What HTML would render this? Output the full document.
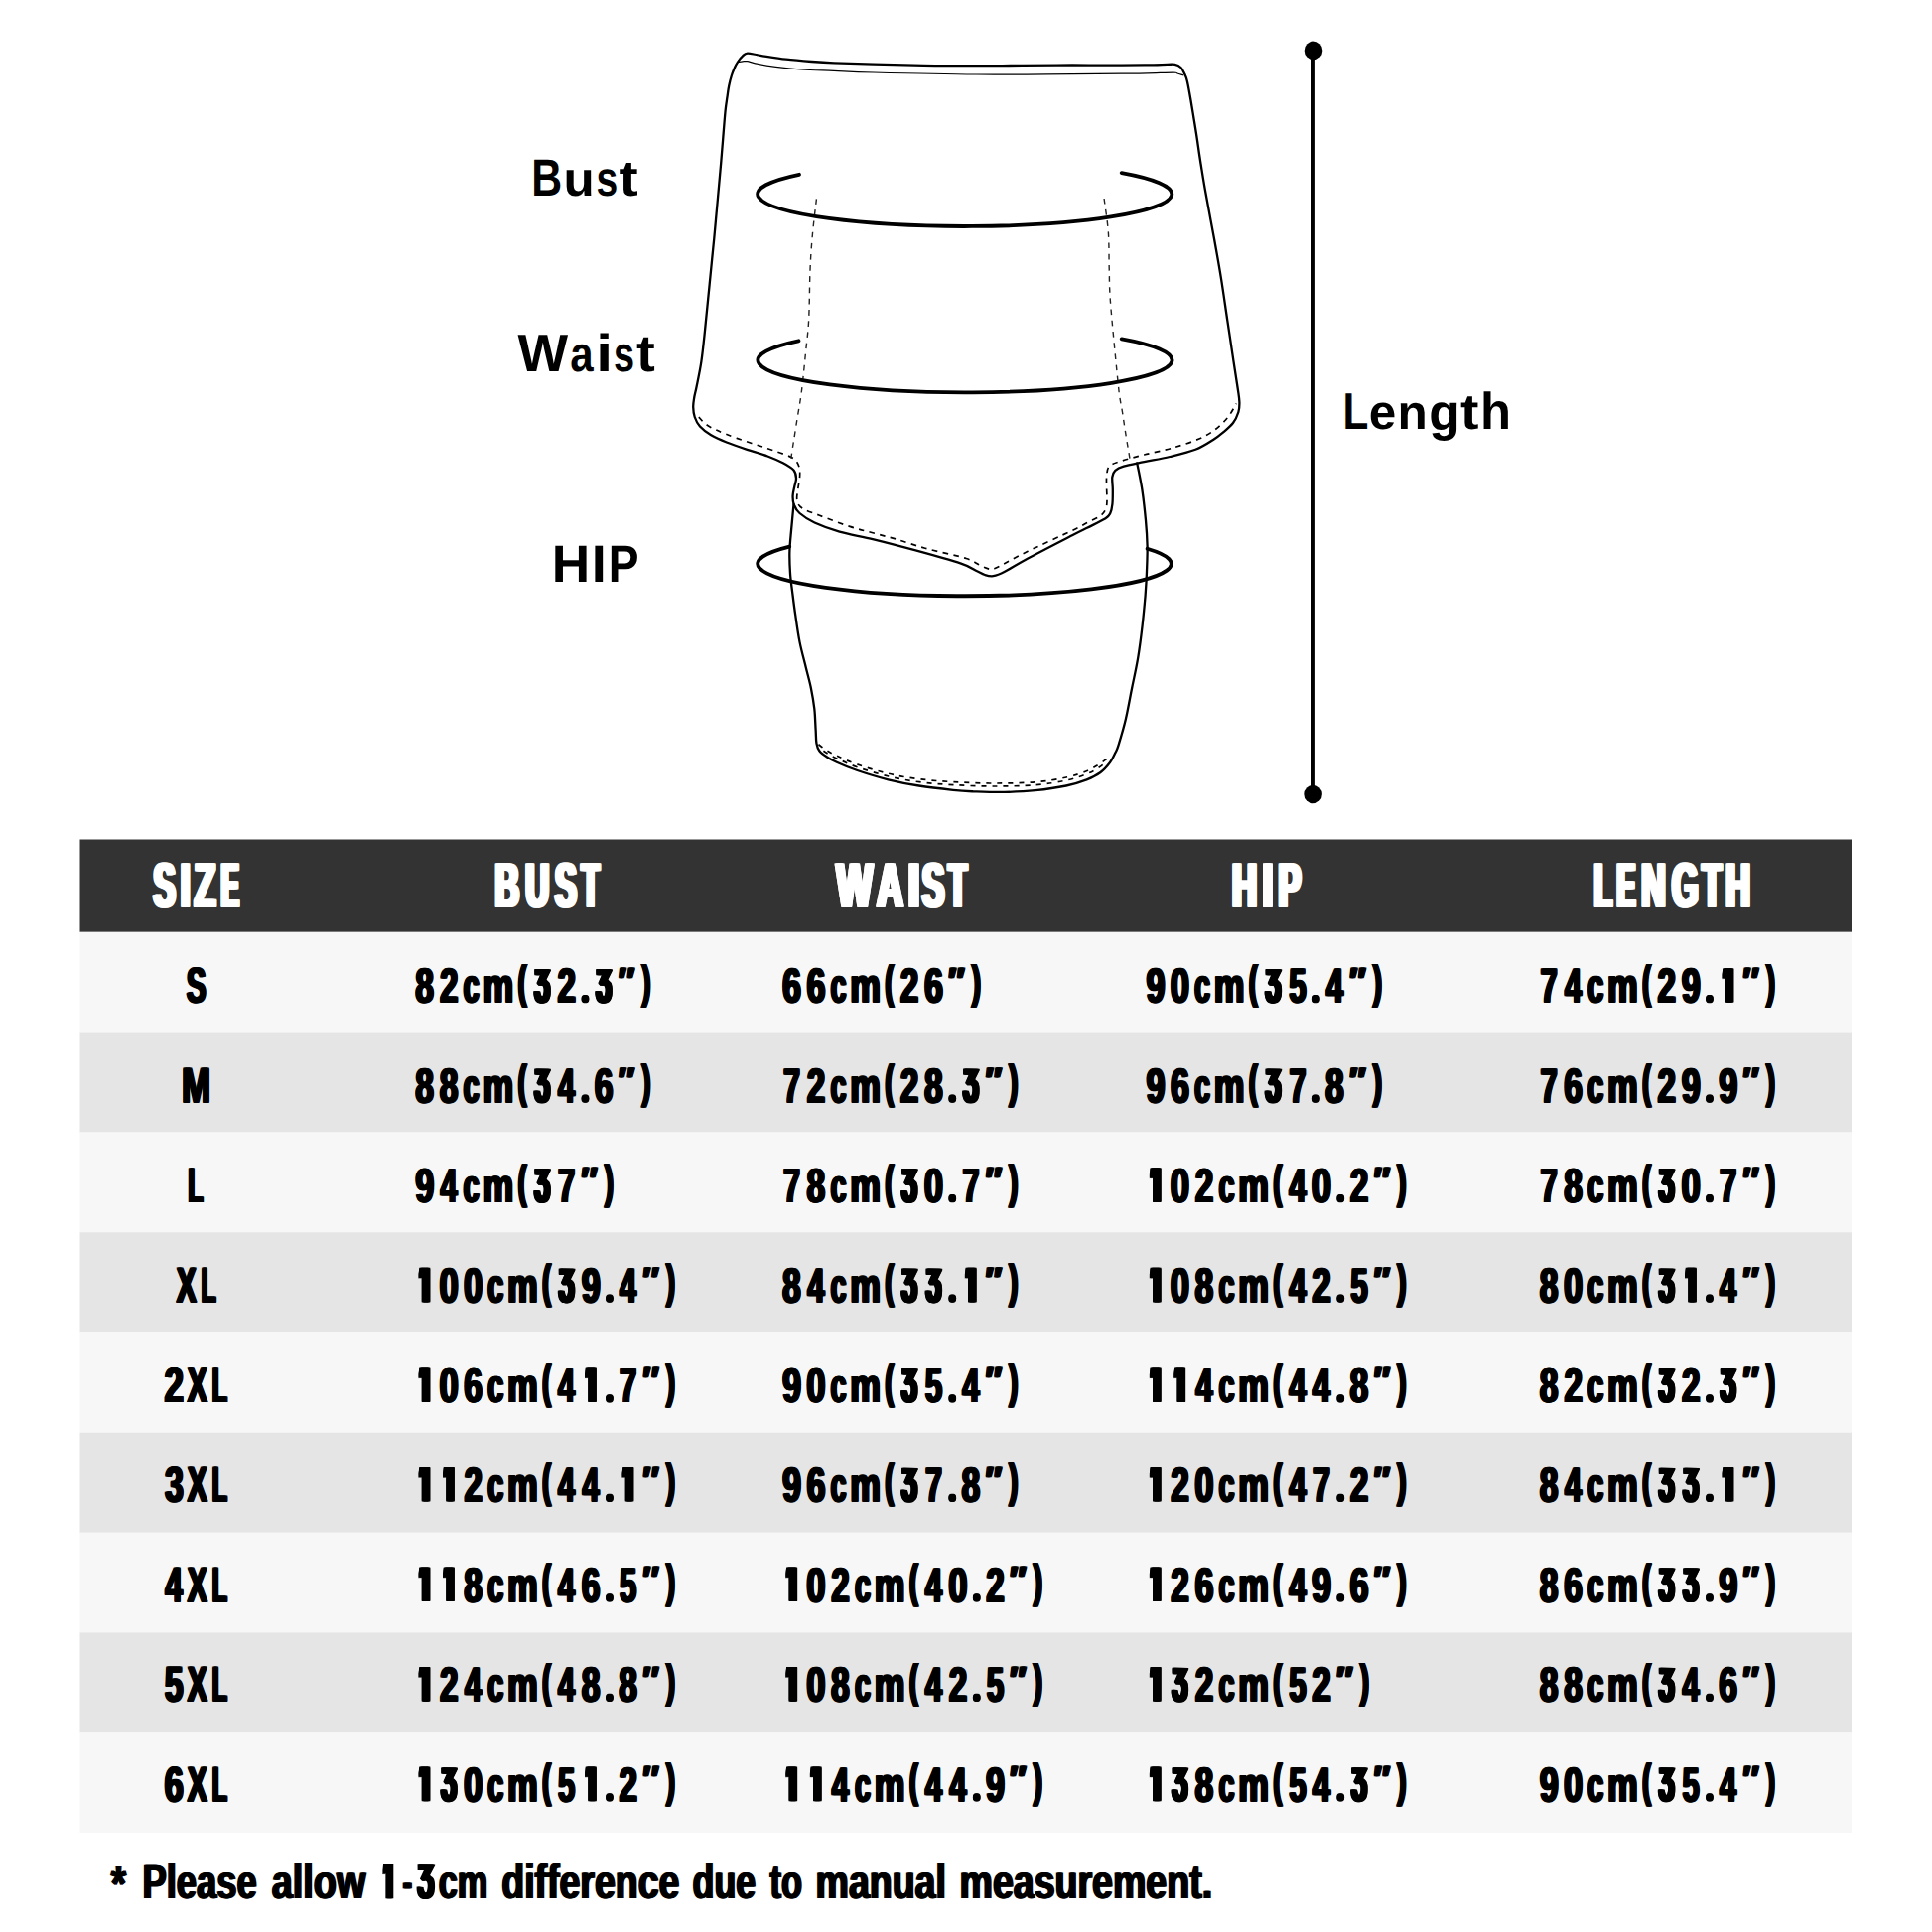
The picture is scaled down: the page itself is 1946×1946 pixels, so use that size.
<!DOCTYPE html>
<html><head><meta charset="utf-8"><title>Size Chart</title>
<style>
html,body{margin:0;padding:0;background:#fff;width:1946px;height:1946px;overflow:hidden}
svg{display:block}
text{font-family:"Liberation Sans",sans-serif;font-weight:bold;font-kerning:none;text-rendering:geometricPrecision}
.h{fill:#fff}
.d{fill:#000}
.l{fill:#000}
.s{fill:none;stroke:#000;stroke-width:2.3;stroke-linejoin:round;stroke-linecap:round}
.t{fill:none;stroke:#000;stroke-width:1.25}
.dd{fill:none;stroke:#000;stroke-width:1.7;stroke-dasharray:5.6 5.4}
.dv{fill:none;stroke:#222;stroke-width:1.4;stroke-dasharray:5.6 5.6}
.db{fill:none;stroke:#000;stroke-width:1.7;stroke-dasharray:5 6}
.e{fill:none;stroke:#000;stroke-width:3.8;stroke-linecap:round}
</style></head><body>
<svg width="1946" height="1946" viewBox="0 0 1946 1946"><rect x="80.5" y="845.5" width="1784.5" height="93.3" fill="#333333"/><rect x="80.5" y="938.80" width="1784.5" height="101.10" fill="#f7f7f7"/><rect x="80.5" y="1039.60" width="1784.5" height="101.10" fill="#e5e5e5"/><rect x="80.5" y="1140.40" width="1784.5" height="101.10" fill="#f7f7f7"/><rect x="80.5" y="1241.20" width="1784.5" height="101.10" fill="#e5e5e5"/><rect x="80.5" y="1342.00" width="1784.5" height="101.10" fill="#f7f7f7"/><rect x="80.5" y="1442.80" width="1784.5" height="101.10" fill="#e5e5e5"/><rect x="80.5" y="1543.60" width="1784.5" height="101.10" fill="#f7f7f7"/><rect x="80.5" y="1644.40" width="1784.5" height="101.10" fill="#e5e5e5"/><rect x="80.5" y="1745.20" width="1784.5" height="100.80" fill="#f7f7f7"/><text class="l" font-size="52.76" transform="matrix(0.8111,0,0,0.9972,535.24,196.90)">B</text><text class="l" font-size="52.76" transform="matrix(0.9694,0,0,0.9228,567.53,196.92)">u</text><text class="l" font-size="52.76" transform="matrix(0.7423,0,0,0.9436,600.52,196.91)">s</text><text class="l" font-size="52.76" transform="matrix(1.0932,0,0,0.9604,623.60,196.95)">t</text><text class="l" font-size="52.76" transform="matrix(1.0162,0,0,1.0138,521.55,374.20)">W</text><text class="l" font-size="52.76" transform="matrix(0.7962,0,0,0.9583,574.17,374.21)">a</text><text class="l" font-size="52.76" transform="matrix(1.1465,0,0,1.0070,600.18,374.20)">i</text><text class="l" font-size="52.76" transform="matrix(0.7187,0,0,0.9574,617.97,374.21)">s</text><text class="l" font-size="52.76" transform="matrix(1.0687,0,0,0.9976,640.91,374.24)">t</text><text class="l" font-size="52.76" transform="matrix(1.0091,0,0,1.0000,555.74,585.90)">H</text><text class="l" font-size="52.76" transform="matrix(1.0263,0,0,1.0000,595.68,585.90)">I</text><text class="l" font-size="52.76" transform="matrix(0.8741,0,0,1.0000,612.71,585.90)">P</text><text class="l" font-size="52.76" transform="matrix(0.8014,0,0,0.9862,1352.57,431.80)">L</text><text class="l" font-size="52.76" transform="matrix(0.9341,0,0,0.9306,1378.77,431.82)">e</text><text class="l" font-size="52.76" transform="matrix(0.9380,0,0,0.9290,1407.44,431.80)">n</text><text class="l" font-size="52.76" transform="matrix(0.9760,0,0,0.9799,1439.19,433.24)">g</text><text class="l" font-size="52.76" transform="matrix(1.0502,0,0,0.9489,1471.12,431.86)">t</text><text class="l" font-size="52.76" transform="matrix(0.9615,0,0,0.9887,1491.06,431.80)">h</text><path d="M765.9,55.8 C772.4,56.8 783.2,58.7 791.8,59.7 C800.4,60.7 809.6,61.4 817.6,62.0 C825.6,62.6 829.6,62.9 840.0,63.3 C850.4,63.7 865.0,64.2 880.0,64.6 C895.0,65.0 912.8,65.5 930.0,65.8 C947.2,66.1 966.8,66.2 983.5,66.2 C1000.2,66.2 1013.9,66.0 1030.0,65.9 C1046.1,65.8 1063.3,65.5 1080.0,65.5 C1096.7,65.5 1117.3,65.6 1130.0,65.6 C1142.7,65.6 1148.2,65.5 1155.9,65.4 C1163.6,65.3 1171.4,65.0 1176.0,64.9 C1180.6,64.8 1181.0,64.4 1183.3,64.9 C1185.5,65.4 1187.9,66.5 1189.5,68.0 C1191.1,69.5 1192.0,71.9 1193.1,74.2 C1194.2,76.5 1194.9,77.7 1195.9,82.0 C1196.9,86.3 1198.2,93.7 1199.3,100.0 C1200.4,106.3 1201.5,113.3 1202.6,120.0 C1203.7,126.7 1204.7,132.6 1205.8,140.0 C1206.9,147.4 1207.9,155.0 1209.4,164.2 C1210.9,173.4 1212.3,182.7 1214.6,195.3 C1216.8,207.9 1220.3,225.7 1222.9,240.0 C1225.5,254.3 1227.9,267.6 1230.1,281.4 C1232.3,295.2 1234.2,309.0 1236.3,322.8 C1238.4,336.6 1240.8,352.7 1242.5,364.2 C1244.2,375.7 1245.8,385.2 1246.8,392.0 C1247.8,398.8 1248.3,401.2 1248.4,405.0 C1248.5,408.8 1248.5,411.5 1247.4,415.0 C1246.3,418.5 1244.6,422.6 1242.0,426.0 C1239.4,429.4 1235.3,432.7 1232.0,435.5 C1228.7,438.3 1226.6,440.1 1222.0,443.0 C1217.4,445.9 1211.5,450.0 1204.2,452.8 C1196.9,455.6 1186.9,457.9 1178.3,460.0 C1169.7,462.1 1160.2,463.6 1152.5,465.2 C1144.8,466.8 1136.7,468.2 1131.8,469.6 C1126.9,471.0 1125.2,472.0 1123.3,473.8 C1121.4,475.6 1120.7,477.3 1120.3,480.5 C1119.9,483.7 1120.8,488.6 1120.8,493.0 C1120.8,497.4 1120.9,503.0 1120.5,507.0 C1120.1,511.0 1119.5,514.5 1118.3,517.0 C1117.1,519.5 1117.3,519.9 1113.5,522.3 C1109.7,524.7 1101.1,528.7 1095.5,531.5 C1089.9,534.3 1090.0,534.0 1080.0,539.2 C1070.0,544.4 1046.6,556.4 1035.3,562.5 C1024.0,568.6 1017.8,572.8 1012.0,575.8 C1006.2,578.8 1003.8,579.7 1000.5,580.2 C997.2,580.7 994.8,579.9 992.0,579.0 C989.2,578.1 987.5,576.9 983.5,575.0 C979.5,573.1 978.4,571.2 968.0,567.7 C957.6,564.2 936.1,558.2 921.4,554.2 C906.7,550.2 892.6,546.5 880.0,543.4 C867.4,540.3 855.5,538.4 845.6,535.6 C835.7,532.8 827.2,529.6 820.5,526.5 C813.8,523.4 809.0,520.0 805.5,517.0 C802.0,514.0 800.9,511.4 799.8,508.5 C798.6,505.6 798.5,502.5 798.6,499.4 C798.7,496.3 799.7,492.9 800.3,490.0 C800.9,487.1 802.1,484.6 802.0,481.8 C801.9,479.1 801.7,476.1 799.5,473.5 C797.3,470.9 793.1,468.6 788.7,466.3 C784.3,464.0 779.2,461.8 773.2,459.5 C767.2,457.2 759.4,455.1 752.5,452.8 C745.6,450.5 737.8,447.9 731.8,445.5 C725.8,443.1 720.7,441.0 716.2,438.3 C711.7,435.6 707.8,432.6 705.0,429.5 C702.2,426.4 700.8,423.2 699.7,420.0 C698.6,416.8 698.3,413.3 698.2,410.0 C698.1,406.7 698.8,403.3 699.3,400.0 C699.8,396.7 700.3,396.0 701.5,390.0 C702.7,384.0 705.0,373.7 706.4,364.2 C707.8,354.7 708.9,343.5 710.0,333.2 C711.1,322.9 712.1,312.5 713.1,302.1 C714.1,291.7 715.2,281.4 716.2,271.0 C717.2,260.6 718.2,251.0 719.3,240.0 C720.3,229.0 721.5,216.3 722.5,205.0 C723.5,193.7 724.5,182.8 725.5,172.0 C726.5,161.2 727.4,149.9 728.2,140.0 C729.0,130.1 729.8,119.7 730.5,112.5 C731.2,105.3 732.0,101.2 732.6,96.9 C733.2,92.6 733.5,90.1 734.2,86.6 C734.9,83.1 735.9,79.1 736.9,76.0 C737.9,72.9 739.0,70.3 740.0,68.0 C741.0,65.7 741.8,64.2 743.1,62.3 C744.4,60.4 746.2,58.0 747.8,56.6 C749.4,55.2 749.9,53.7 752.9,53.6 C755.9,53.5 759.4,54.8 765.9,55.8Z" class="s"/><path d="M743.6,62.4 C744.3,62.3 746.5,61.9 748.0,61.8 C749.5,61.7 750.8,61.4 752.9,61.7 C755.0,62.0 756.0,62.8 760.7,63.8 C765.5,64.8 773.6,66.4 781.4,67.4 C789.2,68.4 797.5,69.3 807.3,70.0 C817.1,70.7 827.9,70.9 840.0,71.4 C852.1,71.9 856.1,72.4 880.0,73.0 C903.9,73.6 950.2,74.7 983.5,75.0 C1016.8,75.3 1055.6,74.7 1080.0,74.6 C1104.4,74.5 1117.3,74.3 1130.0,74.2 C1142.7,74.1 1147.3,74.1 1155.9,73.9 C1164.5,73.7 1176.8,73.1 1181.8,73.1 C1186.8,73.1 1184.2,73.5 1186.0,74.0 C1187.8,74.5 1191.2,75.7 1192.3,76.0" class="t"/><path d="M799.5,508.0 C799.1,512.4 797.7,526.7 797.0,534.6 C796.3,542.5 795.6,548.4 795.4,555.3 C795.2,562.2 795.5,570.0 795.9,576.0 C796.2,582.0 797.0,587.5 797.5,591.5 C798.0,595.5 798.0,595.1 798.6,600.0 C799.2,604.9 800.2,612.9 801.4,620.7 C802.5,628.5 803.8,638.0 805.5,646.6 C807.2,655.2 809.9,664.7 811.8,672.5 C813.7,680.3 815.5,686.3 816.9,693.2 C818.3,700.1 819.5,707.0 820.3,713.9 C821.1,720.8 821.2,728.8 821.6,734.6 C822.0,740.4 821.8,744.9 822.4,748.5 C823.0,752.1 823.7,754.2 825.5,756.5 C827.3,758.8 830.1,760.6 833.0,762.5 C835.9,764.4 837.7,765.5 842.8,767.7 C847.9,770.0 854.9,773.1 863.5,776.0 C872.1,778.9 884.2,782.7 894.6,785.3 C905.0,787.9 914.7,789.8 925.6,791.5 C936.5,793.2 950.8,794.8 960.0,795.8 C969.2,796.8 972.1,796.9 980.7,797.3 C989.3,797.6 1001.4,798.1 1011.8,797.9 C1022.1,797.7 1032.4,797.3 1042.8,796.2 C1053.2,795.1 1065.3,793.3 1073.9,791.5 C1082.5,789.7 1088.8,787.5 1094.6,785.3 C1100.4,783.0 1104.6,780.9 1108.5,778.0 C1112.4,775.1 1115.5,771.3 1118.0,768.0 C1120.5,764.7 1122.0,761.0 1123.5,758.0 C1125.0,755.0 1125.0,755.7 1126.7,750.1 C1128.4,744.5 1131.7,733.7 1133.9,724.2 C1136.1,714.7 1138.0,703.6 1140.1,693.2 C1142.2,682.9 1144.6,672.5 1146.3,662.1 C1148.0,651.8 1149.3,641.5 1150.5,631.1 C1151.7,620.8 1152.8,609.2 1153.6,600.0 C1154.3,590.8 1154.7,584.3 1155.0,576.0 C1155.3,567.7 1155.8,558.7 1155.6,550.1 C1155.4,541.5 1154.9,533.7 1154.0,524.2 C1153.1,514.7 1151.9,502.9 1150.4,493.2 C1148.9,483.5 1146.1,470.8 1145.2,466.3" class="s"/><path d="M703.8,420.1 C704.9,421.2 707.6,424.8 710.5,427.0 C713.4,429.2 716.1,430.7 721.4,433.1 C726.7,435.5 733.5,438.3 742.1,441.4 C750.7,444.5 765.1,449.0 773.2,451.8 C781.4,454.6 786.4,456.2 791.0,458.0 C795.6,459.8 798.3,460.7 800.6,462.8 C802.9,464.9 804.2,467.6 805.0,470.4 C805.8,473.2 805.8,475.9 805.6,479.7 C805.4,483.5 804.2,489.1 803.7,493.2 C803.2,497.2 802.2,500.9 802.9,504.0 C803.6,507.1 804.1,509.3 807.8,511.8 C811.5,514.3 816.9,515.9 824.9,519.0 C832.9,522.1 846.8,527.4 856.0,530.4 C865.2,533.4 872.0,534.8 880.0,537.0 C888.0,539.2 895.1,540.9 903.7,543.4 C912.3,545.9 920.2,549.0 931.8,552.2 C943.4,555.4 963.7,559.5 973.2,562.5 C982.7,565.5 984.5,568.5 988.7,570.3 C992.9,572.1 995.6,573.3 998.5,573.3 C1001.4,573.3 1000.2,573.5 1006.3,570.5 C1012.4,567.5 1023.0,561.3 1035.3,555.3 C1047.6,549.3 1070.0,539.2 1080.0,534.4 C1090.0,529.6 1090.2,529.0 1095.0,526.5 C1099.8,524.0 1105.4,521.8 1108.5,519.5 C1111.6,517.2 1112.7,515.2 1113.8,512.5 C1114.9,509.8 1114.9,507.2 1115.0,503.5 C1115.1,499.8 1114.6,494.1 1114.6,490.0 C1114.5,485.9 1114.3,482.3 1114.7,479.0 C1115.1,475.7 1115.0,472.3 1117.0,470.0 C1119.0,467.7 1120.7,467.2 1126.6,465.2 C1132.5,463.2 1143.0,460.4 1152.5,458.0 C1162.0,455.6 1173.2,453.7 1183.5,450.5 C1193.8,447.3 1206.1,443.4 1214.6,438.8 C1223.1,434.2 1229.4,428.4 1234.5,423.0 C1239.6,417.6 1243.5,409.2 1245.3,406.5" class="dd"/><path d="M822.4,200.3 C821.8,206.1 819.6,223.1 818.5,235.0 C817.4,246.9 816.6,257.4 816.0,272.0 C815.4,286.6 815.4,309.0 814.6,322.8 C813.9,336.6 812.4,345.5 811.5,355.0 C810.6,364.5 809.8,372.5 809.0,380.0 C808.2,387.5 807.6,393.2 806.6,400.0 C805.6,406.8 804.4,413.4 803.2,420.7 C802.0,427.9 800.7,436.7 799.6,443.5 C798.5,450.3 797.3,458.5 796.8,461.5" class="dv"/><path d="M1112.1,200.0 C1112.8,205.8 1115.6,222.9 1116.4,234.6 C1117.2,246.3 1116.9,258.8 1117.2,270.0 C1117.5,281.2 1117.3,288.1 1118.3,302.1 C1119.3,316.1 1121.5,338.4 1123.0,353.9 C1124.5,369.4 1126.0,385.1 1127.2,395.3 C1128.5,405.5 1129.4,408.1 1130.5,415.0 C1131.6,421.9 1132.5,428.8 1133.8,436.7 C1135.0,444.6 1137.2,457.0 1138.0,462.1 C1138.8,467.2 1138.4,466.4 1138.5,467.3" class="dv"/><path d="M824.5,749.8 C825.9,750.8 830.0,754.1 833.0,756.0 C836.0,757.9 837.5,758.7 842.5,761.0 C847.5,763.3 854.4,766.8 863.0,769.8 C871.6,772.8 883.7,776.5 894.0,779.0 C904.3,781.5 914.0,783.2 925.0,784.6 C936.0,786.0 947.5,786.9 960.0,787.6 C972.5,788.3 986.3,789.0 1000.0,789.0 C1013.7,789.0 1029.7,788.8 1042.0,787.8 C1054.3,786.8 1065.2,784.9 1074.0,783.0 C1082.8,781.1 1089.4,778.8 1095.0,776.5 C1100.6,774.2 1104.2,771.5 1107.5,769.5 C1110.8,767.5 1113.3,765.3 1114.5,764.5" class="db"/><path d="M825.0,753.0 C826.4,754.0 830.5,757.2 833.5,759.0 C836.5,760.8 838.0,761.7 843.0,764.0 C848.0,766.3 855.1,769.8 863.8,772.8 C872.5,775.8 884.6,779.5 895.0,782.0 C905.4,784.5 915.2,786.3 926.0,787.7 C936.8,789.1 947.7,789.9 960.0,790.6 C972.3,791.3 986.3,792.0 1000.0,792.0 C1013.7,792.0 1029.7,791.8 1042.0,790.8 C1054.3,789.8 1065.2,787.9 1074.0,786.0 C1082.8,784.1 1089.5,781.7 1095.0,779.5 C1100.5,777.3 1103.8,775.0 1107.0,773.0 C1110.2,771.0 1112.8,768.4 1114.0,767.5" class="db" style="stroke-dashoffset:5.5"/><path d="M805,175.8 A208.6,32.6 0 1 0 1129.7,174.1" class="e"/><path d="M804.5,343.3 A208.6,32.6 0 1 0 1129.7,341.4" class="e"/><path d="M795.2,550.6 A208.3,32.4 0 1 0 1155.6,552.7" class="e"/><line x1="1322.6" y1="50.7" x2="1322.6" y2="800" stroke="#000" stroke-width="4.6"/><circle cx="1323.0" cy="50.9" r="9.3" fill="#000"/><circle cx="1322.6" cy="800.0" r="9.3" fill="#000"/><g id="hd" fill="#fff" transform="translate(0,-0.50)"><text class="h" font-size="63.66" transform="matrix(0.5165,0,0,1.0000,152.45,913.30)">S</text><text class="h" font-size="63.66" transform="matrix(0.5234,0,0,1.0000,179.97,913.30)">I</text><text class="h" font-size="63.66" transform="matrix(0.5518,0,0,1.0000,193.65,913.30)">Z</text><text class="h" font-size="63.66" transform="matrix(0.4144,0,0,1.0000,220.84,913.30)">E</text><text class="h" font-size="63.66" transform="matrix(0.5280,0,0,1.0000,496.55,913.30)">B</text><text class="h" font-size="63.66" transform="matrix(0.5148,0,0,1.0000,527.33,913.30)">U</text><text class="h" font-size="63.66" transform="matrix(0.5060,0,0,1.0000,556.97,913.30)">S</text><text class="h" font-size="63.66" transform="matrix(0.4588,0,0,1.0000,583.67,913.30)">T</text><text class="h" font-size="63.66" transform="matrix(0.6037,0,0,1.0000,840.56,913.30)">W</text><text class="h" font-size="63.66" transform="matrix(0.5713,0,0,1.0000,881.29,913.30)">A</text><text class="h" font-size="63.66" transform="matrix(0.6652,0,0,1.0000,912.47,913.30)">I</text><text class="h" font-size="63.66" transform="matrix(0.5244,0,0,1.0000,926.84,913.30)">S</text><text class="h" font-size="63.66" transform="matrix(0.4748,0,0,1.0000,953.36,913.30)">T</text><text class="h" font-size="63.66" transform="matrix(0.5397,0,0,1.0000,1239.10,913.30)">H</text><text class="h" font-size="63.66" transform="matrix(0.5998,0,0,1.0000,1269.55,913.30)">I</text><text class="h" font-size="63.66" transform="matrix(0.5301,0,0,1.0000,1285.54,913.30)">P</text><text class="h" font-size="63.66" transform="matrix(0.4591,0,0,1.0000,1603.74,913.30)">L</text><text class="h" font-size="63.66" transform="matrix(0.4340,0,0,1.0000,1626.45,913.30)">E</text><text class="h" font-size="63.66" transform="matrix(0.5317,0,0,1.0000,1651.14,913.30)">N</text><text class="h" font-size="63.66" transform="matrix(0.5330,0,0,1.0000,1682.01,913.30)">G</text><text class="h" font-size="63.66" transform="matrix(0.4908,0,0,1.0000,1712.55,913.30)">T</text><text class="h" font-size="63.66" transform="matrix(0.5317,0,0,1.0000,1736.24,913.30)">H</text></g><use href="#hd" x="1.40"/><use href="#hd" x="2.80"/><use href="#hd" x="4.20"/><use href="#hd" x="0.00" y="1.00"/><use href="#hd" x="1.40" y="1.00"/><use href="#hd" x="2.80" y="1.00"/><use href="#hd" x="4.20" y="1.00"/><g id="dt" fill="#000" transform="translate(0,-0.40)"><text class="d" font-size="50.15" transform="matrix(0.5891,0,0,1.0000,186.70,1009.80)">S</text><text class="d" font-size="49.00" transform="matrix(0.6780,0,0,1.0000,417.30,1009.80)">8</text><text class="d" font-size="49.00" transform="matrix(0.6698,0,0,1.0000,442.01,1009.80)">2</text><text class="d" font-size="49.00" transform="matrix(0.5899,0,0,1.0000,465.62,1009.80)">c</text><text class="d" font-size="49.00" transform="matrix(0.6997,0,0,1.0000,485.49,1009.80)">m</text><text class="d" font-size="49.00" transform="matrix(0.5460,0,0,0.9590,520.49,1005.05)">(</text><path d="M538.26,976.30 L552.70,976.54 L552.70,977.33 L547.97,986.90 C548.2,987.1 548.6,987.3 549.1,987.8 C549.6,988.3 550.6,989.0 551.2,989.9 C551.7,990.8 552.1,992.0 552.3,993.3 C552.6,994.6 552.6,996.1 552.6,997.8 C552.6,999.6 552.5,1002.0 552.1,1003.6 C551.8,1005.2 551.3,1006.4 550.6,1007.4 C549.9,1008.5 548.9,1009.2 548.0,1009.7 C547.0,1010.2 545.9,1010.4 544.8,1010.4 C543.7,1010.4 542.3,1010.3 541.4,1009.7 C540.4,1009.1 539.5,1008.2 538.9,1007.0 C538.3,1005.8 537.8,1003.9 537.6,1002.4 C537.3,1001.0 537.4,999.0 537.4,998.3 L541.99,998.53 C542.1,998.9 542.1,999.7 542.4,1000.5 C542.6,1001.3 542.9,1002.6 543.4,1003.2 C543.8,1003.8 544.4,1004.2 544.9,1004.2 C545.4,1004.2 546.1,1004.1 546.6,1003.2 C547.0,1002.3 547.4,1000.3 547.6,999.0 C547.7,997.7 547.7,996.6 547.6,995.6 C547.4,994.6 547.2,993.6 546.7,993.0 C546.3,992.4 545.4,992.1 544.7,992.0 C544.1,991.9 543.0,992.5 542.6,992.6 L541.07,991.01 L540.46,990.32 L544.13,981.91 L538.35,981.91Z"/><text class="d" font-size="49.00" transform="matrix(0.6698,0,0,1.0000,560.51,1009.80)">2</text><ellipse cx="588.35" cy="1006.07" rx="2.75" ry="3.73"/><path d="M600.26,976.30 L614.70,976.54 L614.70,977.33 L609.97,986.90 C610.2,987.1 610.6,987.3 611.1,987.8 C611.6,988.3 612.6,989.0 613.2,989.9 C613.7,990.8 614.1,992.0 614.3,993.3 C614.6,994.6 614.6,996.1 614.6,997.8 C614.6,999.6 614.5,1002.0 614.1,1003.6 C613.8,1005.2 613.3,1006.4 612.6,1007.4 C611.9,1008.5 610.9,1009.2 610.0,1009.7 C609.0,1010.2 607.9,1010.4 606.8,1010.4 C605.7,1010.4 604.3,1010.3 603.4,1009.7 C602.4,1009.1 601.5,1008.2 600.9,1007.0 C600.3,1005.8 599.8,1003.9 599.6,1002.4 C599.3,1001.0 599.4,999.0 599.4,998.3 L603.99,998.53 C604.1,998.9 604.1,999.7 604.4,1000.5 C604.6,1001.3 604.9,1002.6 605.4,1003.2 C605.8,1003.8 606.4,1004.2 606.9,1004.2 C607.4,1004.2 608.1,1004.1 608.6,1003.2 C609.0,1002.3 609.4,1000.3 609.6,999.0 C609.7,997.7 609.7,996.6 609.6,995.6 C609.4,994.6 609.2,993.6 608.7,993.0 C608.3,992.4 607.4,992.1 606.7,992.0 C606.1,991.9 605.0,992.5 604.6,992.6 L603.07,991.01 L602.46,990.32 L606.13,981.91 L600.35,981.91Z"/><text class="d" font-size="49.00" transform="matrix(0.7250,0,0,0.7892,621.38,1001.41)">″</text><text class="d" font-size="49.00" transform="matrix(0.5713,0,0,0.9590,645.17,1005.05)">)</text><text class="d" font-size="49.00" transform="matrix(0.6882,0,0,1.0000,786.97,1009.80)">6</text><text class="d" font-size="49.00" transform="matrix(0.6882,0,0,1.0000,811.47,1009.80)">6</text><text class="d" font-size="49.00" transform="matrix(0.5899,0,0,1.0000,835.42,1009.80)">c</text><text class="d" font-size="49.00" transform="matrix(0.6997,0,0,1.0000,855.29,1009.80)">m</text><text class="d" font-size="49.00" transform="matrix(0.5460,0,0,0.9590,890.29,1005.05)">(</text><text class="d" font-size="49.00" transform="matrix(0.6698,0,0,1.0000,905.81,1009.80)">2</text><text class="d" font-size="49.00" transform="matrix(0.6882,0,0,1.0000,929.97,1009.80)">6</text><text class="d" font-size="49.00" transform="matrix(0.7250,0,0,0.7892,953.68,1001.41)">″</text><text class="d" font-size="49.00" transform="matrix(0.5713,0,0,0.9590,977.47,1005.05)">)</text><text class="d" font-size="49.00" transform="matrix(0.6910,0,0,1.0000,1153.48,1009.80)">9</text><text class="d" font-size="49.00" transform="matrix(0.6995,0,0,1.0000,1177.84,1009.80)">0</text><text class="d" font-size="49.00" transform="matrix(0.5899,0,0,1.0000,1201.92,1009.80)">c</text><text class="d" font-size="49.00" transform="matrix(0.6997,0,0,1.0000,1221.79,1009.80)">m</text><text class="d" font-size="49.00" transform="matrix(0.5460,0,0,0.9590,1256.79,1005.05)">(</text><path d="M1274.56,976.30 L1289.00,976.54 L1289.00,977.33 L1284.27,986.90 C1284.5,987.1 1284.9,987.3 1285.4,987.8 C1285.9,988.3 1286.9,989.0 1287.5,989.9 C1288.0,990.8 1288.4,992.0 1288.6,993.3 C1288.9,994.6 1288.9,996.1 1288.9,997.8 C1288.9,999.6 1288.8,1002.0 1288.4,1003.6 C1288.1,1005.2 1287.6,1006.4 1286.9,1007.4 C1286.2,1008.5 1285.2,1009.2 1284.3,1009.7 C1283.3,1010.2 1282.2,1010.4 1281.1,1010.4 C1280.0,1010.4 1278.6,1010.3 1277.7,1009.7 C1276.7,1009.1 1275.8,1008.2 1275.2,1007.0 C1274.6,1005.8 1274.1,1003.9 1273.9,1002.4 C1273.6,1001.0 1273.7,999.0 1273.7,998.3 L1278.29,998.53 C1278.4,998.9 1278.4,999.7 1278.7,1000.5 C1278.9,1001.3 1279.2,1002.6 1279.7,1003.2 C1280.1,1003.8 1280.7,1004.2 1281.2,1004.2 C1281.7,1004.2 1282.4,1004.1 1282.9,1003.2 C1283.3,1002.3 1283.7,1000.3 1283.9,999.0 C1284.0,997.7 1284.0,996.6 1283.9,995.6 C1283.7,994.6 1283.5,993.6 1283.0,993.0 C1282.6,992.4 1281.7,992.1 1281.0,992.0 C1280.4,991.9 1279.3,992.5 1278.9,992.6 L1277.37,991.01 L1276.76,990.32 L1280.43,981.91 L1274.65,981.91Z"/><text class="d" font-size="49.00" transform="matrix(0.6317,0,0,1.0000,1297.20,1009.80)">5</text><ellipse cx="1324.65" cy="1006.07" rx="2.75" ry="3.73"/><text class="d" font-size="49.00" transform="matrix(0.6248,0,0,1.0000,1334.69,1009.80)">4</text><text class="d" font-size="49.00" transform="matrix(0.7250,0,0,0.7892,1357.68,1001.41)">″</text><text class="d" font-size="49.00" transform="matrix(0.5713,0,0,0.9590,1381.47,1005.05)">)</text><text class="d" font-size="49.00" transform="matrix(0.6219,0,0,1.0000,1550.59,1009.80)">7</text><text class="d" font-size="49.00" transform="matrix(0.6248,0,0,1.0000,1574.89,1009.80)">4</text><text class="d" font-size="49.00" transform="matrix(0.5899,0,0,1.0000,1598.12,1009.80)">c</text><text class="d" font-size="49.00" transform="matrix(0.6997,0,0,1.0000,1617.99,1009.80)">m</text><text class="d" font-size="49.00" transform="matrix(0.5460,0,0,0.9590,1652.99,1005.05)">(</text><text class="d" font-size="49.00" transform="matrix(0.6698,0,0,1.0000,1668.51,1009.80)">2</text><text class="d" font-size="49.00" transform="matrix(0.6910,0,0,1.0000,1692.68,1009.80)">9</text><ellipse cx="1720.85" cy="1006.07" rx="2.75" ry="3.73"/><path d="M1744.10,975.60 L1735.29,975.60 L1734.60,981.68 L1734.60,985.74 L1737.76,983.54 L1737.76,1009.40 L1744.10,1009.40Z"/><text class="d" font-size="49.00" transform="matrix(0.7250,0,0,0.7892,1753.88,1001.41)">″</text><text class="d" font-size="49.00" transform="matrix(0.5713,0,0,0.9590,1777.67,1005.05)">)</text><text class="d" font-size="50.15" transform="matrix(0.6902,0,0,1.0000,181.98,1110.35)">M</text><text class="d" font-size="49.00" transform="matrix(0.6780,0,0,1.0000,417.30,1110.35)">8</text><text class="d" font-size="49.00" transform="matrix(0.6780,0,0,1.0000,441.80,1110.35)">8</text><text class="d" font-size="49.00" transform="matrix(0.5899,0,0,1.0000,465.62,1110.35)">c</text><text class="d" font-size="49.00" transform="matrix(0.6997,0,0,1.0000,485.49,1110.35)">m</text><text class="d" font-size="49.00" transform="matrix(0.5460,0,0,0.9590,520.49,1105.60)">(</text><path d="M538.26,1076.85 L552.70,1077.09 L552.70,1077.88 L547.97,1087.45 C548.2,1087.6 548.6,1087.9 549.1,1088.4 C549.6,1088.9 550.6,1089.5 551.2,1090.4 C551.7,1091.3 552.1,1092.5 552.3,1093.8 C552.6,1095.2 552.6,1096.7 552.6,1098.4 C552.6,1100.1 552.5,1102.5 552.1,1104.1 C551.8,1105.7 551.3,1106.9 550.6,1108.0 C549.9,1109.0 548.9,1109.8 548.0,1110.3 C547.0,1110.8 545.9,1110.9 544.8,1110.9 C543.7,1110.9 542.3,1110.8 541.4,1110.3 C540.4,1109.7 539.5,1108.7 538.9,1107.5 C538.3,1106.3 537.8,1104.4 537.6,1103.0 C537.3,1101.5 537.4,1099.5 537.4,1098.8 L541.99,1099.08 C542.1,1099.4 542.1,1100.3 542.4,1101.0 C542.6,1101.8 542.9,1103.1 543.4,1103.8 C543.8,1104.4 544.4,1104.8 544.9,1104.8 C545.4,1104.8 546.1,1104.6 546.6,1103.8 C547.0,1102.9 547.4,1100.8 547.6,1099.6 C547.7,1098.3 547.7,1097.2 547.6,1096.1 C547.4,1095.1 547.2,1094.1 546.7,1093.5 C546.3,1092.9 545.4,1092.6 544.7,1092.6 C544.1,1092.5 543.0,1093.1 542.6,1093.2 L541.07,1091.56 L540.46,1090.87 L544.13,1082.46 L538.35,1082.46Z"/><text class="d" font-size="49.00" transform="matrix(0.6248,0,0,1.0000,560.89,1110.35)">4</text><ellipse cx="588.35" cy="1106.62" rx="2.75" ry="3.73"/><text class="d" font-size="49.00" transform="matrix(0.6882,0,0,1.0000,597.67,1110.35)">6</text><text class="d" font-size="49.00" transform="matrix(0.7250,0,0,0.7892,621.38,1101.96)">″</text><text class="d" font-size="49.00" transform="matrix(0.5713,0,0,0.9590,645.17,1105.60)">)</text><text class="d" font-size="49.00" transform="matrix(0.6219,0,0,1.0000,787.89,1110.35)">7</text><text class="d" font-size="49.00" transform="matrix(0.6698,0,0,1.0000,811.81,1110.35)">2</text><text class="d" font-size="49.00" transform="matrix(0.5899,0,0,1.0000,835.42,1110.35)">c</text><text class="d" font-size="49.00" transform="matrix(0.6997,0,0,1.0000,855.29,1110.35)">m</text><text class="d" font-size="49.00" transform="matrix(0.5460,0,0,0.9590,890.29,1105.60)">(</text><text class="d" font-size="49.00" transform="matrix(0.6698,0,0,1.0000,905.81,1110.35)">2</text><text class="d" font-size="49.00" transform="matrix(0.6780,0,0,1.0000,930.10,1110.35)">8</text><ellipse cx="958.15" cy="1106.62" rx="2.75" ry="3.73"/><path d="M970.06,1076.85 L984.50,1077.09 L984.50,1077.88 L979.77,1087.45 C980.0,1087.6 980.4,1087.9 980.9,1088.4 C981.4,1088.9 982.4,1089.5 983.0,1090.4 C983.5,1091.3 983.9,1092.5 984.1,1093.8 C984.4,1095.2 984.4,1096.7 984.4,1098.4 C984.4,1100.1 984.3,1102.5 983.9,1104.1 C983.6,1105.7 983.1,1106.9 982.4,1108.0 C981.7,1109.0 980.7,1109.8 979.8,1110.3 C978.8,1110.8 977.7,1110.9 976.6,1110.9 C975.5,1110.9 974.1,1110.8 973.2,1110.3 C972.2,1109.7 971.3,1108.7 970.7,1107.5 C970.1,1106.3 969.6,1104.4 969.4,1103.0 C969.1,1101.5 969.2,1099.5 969.2,1098.8 L973.79,1099.08 C973.9,1099.4 973.9,1100.3 974.2,1101.0 C974.4,1101.8 974.7,1103.1 975.2,1103.8 C975.6,1104.4 976.2,1104.8 976.7,1104.8 C977.2,1104.8 977.9,1104.6 978.4,1103.8 C978.8,1102.9 979.2,1100.8 979.4,1099.6 C979.5,1098.3 979.5,1097.2 979.4,1096.1 C979.2,1095.1 979.0,1094.1 978.5,1093.5 C978.1,1092.9 977.2,1092.6 976.5,1092.6 C975.9,1092.5 974.8,1093.1 974.4,1093.2 L972.87,1091.56 L972.26,1090.87 L975.93,1082.46 L970.15,1082.46Z"/><text class="d" font-size="49.00" transform="matrix(0.7250,0,0,0.7892,991.18,1101.96)">″</text><text class="d" font-size="49.00" transform="matrix(0.5713,0,0,0.9590,1014.97,1105.60)">)</text><text class="d" font-size="49.00" transform="matrix(0.6910,0,0,1.0000,1153.48,1110.35)">9</text><text class="d" font-size="49.00" transform="matrix(0.6882,0,0,1.0000,1177.97,1110.35)">6</text><text class="d" font-size="49.00" transform="matrix(0.5899,0,0,1.0000,1201.92,1110.35)">c</text><text class="d" font-size="49.00" transform="matrix(0.6997,0,0,1.0000,1221.79,1110.35)">m</text><text class="d" font-size="49.00" transform="matrix(0.5460,0,0,0.9590,1256.79,1105.60)">(</text><path d="M1274.56,1076.85 L1289.00,1077.09 L1289.00,1077.88 L1284.27,1087.45 C1284.5,1087.6 1284.9,1087.9 1285.4,1088.4 C1285.9,1088.9 1286.9,1089.5 1287.5,1090.4 C1288.0,1091.3 1288.4,1092.5 1288.6,1093.8 C1288.9,1095.2 1288.9,1096.7 1288.9,1098.4 C1288.9,1100.1 1288.8,1102.5 1288.4,1104.1 C1288.1,1105.7 1287.6,1106.9 1286.9,1108.0 C1286.2,1109.0 1285.2,1109.8 1284.3,1110.3 C1283.3,1110.8 1282.2,1110.9 1281.1,1110.9 C1280.0,1110.9 1278.6,1110.8 1277.7,1110.3 C1276.7,1109.7 1275.8,1108.7 1275.2,1107.5 C1274.6,1106.3 1274.1,1104.4 1273.9,1103.0 C1273.6,1101.5 1273.7,1099.5 1273.7,1098.8 L1278.29,1099.08 C1278.4,1099.4 1278.4,1100.3 1278.7,1101.0 C1278.9,1101.8 1279.2,1103.1 1279.7,1103.8 C1280.1,1104.4 1280.7,1104.8 1281.2,1104.8 C1281.7,1104.8 1282.4,1104.6 1282.9,1103.8 C1283.3,1102.9 1283.7,1100.8 1283.9,1099.6 C1284.0,1098.3 1284.0,1097.2 1283.9,1096.1 C1283.7,1095.1 1283.5,1094.1 1283.0,1093.5 C1282.6,1092.9 1281.7,1092.6 1281.0,1092.6 C1280.4,1092.5 1279.3,1093.1 1278.9,1093.2 L1277.37,1091.56 L1276.76,1090.87 L1280.43,1082.46 L1274.65,1082.46Z"/><text class="d" font-size="49.00" transform="matrix(0.6219,0,0,1.0000,1297.39,1110.35)">7</text><ellipse cx="1324.65" cy="1106.62" rx="2.75" ry="3.73"/><text class="d" font-size="49.00" transform="matrix(0.6780,0,0,1.0000,1334.10,1110.35)">8</text><text class="d" font-size="49.00" transform="matrix(0.7250,0,0,0.7892,1357.68,1101.96)">″</text><text class="d" font-size="49.00" transform="matrix(0.5713,0,0,0.9590,1381.47,1105.60)">)</text><text class="d" font-size="49.00" transform="matrix(0.6219,0,0,1.0000,1550.59,1110.35)">7</text><text class="d" font-size="49.00" transform="matrix(0.6882,0,0,1.0000,1574.17,1110.35)">6</text><text class="d" font-size="49.00" transform="matrix(0.5899,0,0,1.0000,1598.12,1110.35)">c</text><text class="d" font-size="49.00" transform="matrix(0.6997,0,0,1.0000,1617.99,1110.35)">m</text><text class="d" font-size="49.00" transform="matrix(0.5460,0,0,0.9590,1652.99,1105.60)">(</text><text class="d" font-size="49.00" transform="matrix(0.6698,0,0,1.0000,1668.51,1110.35)">2</text><text class="d" font-size="49.00" transform="matrix(0.6910,0,0,1.0000,1692.68,1110.35)">9</text><ellipse cx="1720.85" cy="1106.62" rx="2.75" ry="3.73"/><text class="d" font-size="49.00" transform="matrix(0.6910,0,0,1.0000,1730.18,1110.35)">9</text><text class="d" font-size="49.00" transform="matrix(0.7250,0,0,0.7892,1753.88,1101.96)">″</text><text class="d" font-size="49.00" transform="matrix(0.5713,0,0,0.9590,1777.67,1105.60)">)</text><text class="d" font-size="50.15" transform="matrix(0.4974,0,0,1.0000,188.33,1210.90)">L</text><text class="d" font-size="49.00" transform="matrix(0.6910,0,0,1.0000,417.18,1210.90)">9</text><text class="d" font-size="49.00" transform="matrix(0.6248,0,0,1.0000,442.39,1210.90)">4</text><text class="d" font-size="49.00" transform="matrix(0.5899,0,0,1.0000,465.62,1210.90)">c</text><text class="d" font-size="49.00" transform="matrix(0.6997,0,0,1.0000,485.49,1210.90)">m</text><text class="d" font-size="49.00" transform="matrix(0.5460,0,0,0.9590,520.49,1206.15)">(</text><path d="M538.26,1177.40 L552.70,1177.64 L552.70,1178.43 L547.97,1188.00 C548.2,1188.2 548.6,1188.4 549.1,1188.9 C549.6,1189.4 550.6,1190.1 551.2,1191.0 C551.7,1191.9 552.1,1193.1 552.3,1194.4 C552.6,1195.7 552.6,1197.2 552.6,1198.9 C552.6,1200.7 552.5,1203.1 552.1,1204.7 C551.8,1206.3 551.3,1207.5 550.6,1208.5 C549.9,1209.6 548.9,1210.3 548.0,1210.8 C547.0,1211.3 545.9,1211.5 544.8,1211.5 C543.7,1211.5 542.3,1211.4 541.4,1210.8 C540.4,1210.2 539.5,1209.3 538.9,1208.1 C538.3,1206.9 537.8,1205.0 537.6,1203.5 C537.3,1202.1 537.4,1200.1 537.4,1199.4 L541.99,1199.63 C542.1,1200.0 542.1,1200.8 542.4,1201.6 C542.6,1202.4 542.9,1203.7 543.4,1204.3 C543.8,1204.9 544.4,1205.3 544.9,1205.3 C545.4,1205.3 546.1,1205.2 546.6,1204.3 C547.0,1203.4 547.4,1201.4 547.6,1200.1 C547.7,1198.8 547.7,1197.7 547.6,1196.7 C547.4,1195.7 547.2,1194.7 546.7,1194.1 C546.3,1193.5 545.4,1193.2 544.7,1193.1 C544.1,1193.0 543.0,1193.6 542.6,1193.7 L541.07,1192.11 L540.46,1191.42 L544.13,1183.01 L538.35,1183.01Z"/><text class="d" font-size="49.00" transform="matrix(0.6219,0,0,1.0000,561.09,1210.90)">7</text><text class="d" font-size="49.00" transform="matrix(0.7250,0,0,0.7892,583.88,1202.51)">″</text><text class="d" font-size="49.00" transform="matrix(0.5713,0,0,0.9590,607.67,1206.15)">)</text><text class="d" font-size="49.00" transform="matrix(0.6219,0,0,1.0000,787.89,1210.90)">7</text><text class="d" font-size="49.00" transform="matrix(0.6780,0,0,1.0000,811.60,1210.90)">8</text><text class="d" font-size="49.00" transform="matrix(0.5899,0,0,1.0000,835.42,1210.90)">c</text><text class="d" font-size="49.00" transform="matrix(0.6997,0,0,1.0000,855.29,1210.90)">m</text><text class="d" font-size="49.00" transform="matrix(0.5460,0,0,0.9590,890.29,1206.15)">(</text><path d="M908.06,1177.40 L922.50,1177.64 L922.50,1178.43 L917.77,1188.00 C918.0,1188.2 918.4,1188.4 918.9,1188.9 C919.4,1189.4 920.4,1190.1 921.0,1191.0 C921.5,1191.9 921.9,1193.1 922.1,1194.4 C922.4,1195.7 922.4,1197.2 922.4,1198.9 C922.4,1200.7 922.3,1203.1 921.9,1204.7 C921.6,1206.3 921.1,1207.5 920.4,1208.5 C919.7,1209.6 918.7,1210.3 917.8,1210.8 C916.8,1211.3 915.7,1211.5 914.6,1211.5 C913.5,1211.5 912.1,1211.4 911.2,1210.8 C910.2,1210.2 909.3,1209.3 908.7,1208.1 C908.1,1206.9 907.6,1205.0 907.4,1203.5 C907.1,1202.1 907.2,1200.1 907.2,1199.4 L911.79,1199.63 C911.9,1200.0 911.9,1200.8 912.2,1201.6 C912.4,1202.4 912.7,1203.7 913.2,1204.3 C913.6,1204.9 914.2,1205.3 914.7,1205.3 C915.2,1205.3 915.9,1205.2 916.4,1204.3 C916.8,1203.4 917.2,1201.4 917.4,1200.1 C917.5,1198.8 917.5,1197.7 917.4,1196.7 C917.2,1195.7 917.0,1194.7 916.5,1194.1 C916.1,1193.5 915.2,1193.2 914.5,1193.1 C913.9,1193.0 912.8,1193.6 912.4,1193.7 L910.87,1192.11 L910.26,1191.42 L913.93,1183.01 L908.15,1183.01Z"/><text class="d" font-size="49.00" transform="matrix(0.6995,0,0,1.0000,929.84,1210.90)">0</text><ellipse cx="958.15" cy="1207.17" rx="2.75" ry="3.73"/><text class="d" font-size="49.00" transform="matrix(0.6219,0,0,1.0000,968.39,1210.90)">7</text><text class="d" font-size="49.00" transform="matrix(0.7250,0,0,0.7892,991.18,1202.51)">″</text><text class="d" font-size="49.00" transform="matrix(0.5713,0,0,0.9590,1014.97,1206.15)">)</text><path d="M1167.40,1176.70 L1158.59,1176.70 L1157.90,1182.78 L1157.90,1186.84 L1161.06,1184.64 L1161.06,1210.50 L1167.40,1210.50Z"/><text class="d" font-size="49.00" transform="matrix(0.6995,0,0,1.0000,1177.84,1210.90)">0</text><text class="d" font-size="49.00" transform="matrix(0.6698,0,0,1.0000,1202.81,1210.90)">2</text><text class="d" font-size="49.00" transform="matrix(0.5899,0,0,1.0000,1226.42,1210.90)">c</text><text class="d" font-size="49.00" transform="matrix(0.6997,0,0,1.0000,1246.29,1210.90)">m</text><text class="d" font-size="49.00" transform="matrix(0.5460,0,0,0.9590,1281.29,1206.15)">(</text><text class="d" font-size="49.00" transform="matrix(0.6248,0,0,1.0000,1297.19,1210.90)">4</text><text class="d" font-size="49.00" transform="matrix(0.6995,0,0,1.0000,1320.84,1210.90)">0</text><ellipse cx="1349.15" cy="1207.17" rx="2.75" ry="3.73"/><text class="d" font-size="49.00" transform="matrix(0.6698,0,0,1.0000,1358.81,1210.90)">2</text><text class="d" font-size="49.00" transform="matrix(0.7250,0,0,0.7892,1382.18,1202.51)">″</text><text class="d" font-size="49.00" transform="matrix(0.5713,0,0,0.9590,1405.97,1206.15)">)</text><text class="d" font-size="49.00" transform="matrix(0.6219,0,0,1.0000,1550.59,1210.90)">7</text><text class="d" font-size="49.00" transform="matrix(0.6780,0,0,1.0000,1574.30,1210.90)">8</text><text class="d" font-size="49.00" transform="matrix(0.5899,0,0,1.0000,1598.12,1210.90)">c</text><text class="d" font-size="49.00" transform="matrix(0.6997,0,0,1.0000,1617.99,1210.90)">m</text><text class="d" font-size="49.00" transform="matrix(0.5460,0,0,0.9590,1652.99,1206.15)">(</text><path d="M1670.76,1177.40 L1685.20,1177.64 L1685.20,1178.43 L1680.47,1188.00 C1680.7,1188.2 1681.1,1188.4 1681.6,1188.9 C1682.1,1189.4 1683.1,1190.1 1683.7,1191.0 C1684.2,1191.9 1684.6,1193.1 1684.8,1194.4 C1685.1,1195.7 1685.1,1197.2 1685.1,1198.9 C1685.1,1200.7 1685.0,1203.1 1684.6,1204.7 C1684.3,1206.3 1683.8,1207.5 1683.1,1208.5 C1682.4,1209.6 1681.4,1210.3 1680.5,1210.8 C1679.5,1211.3 1678.4,1211.5 1677.3,1211.5 C1676.2,1211.5 1674.8,1211.4 1673.9,1210.8 C1672.9,1210.2 1672.0,1209.3 1671.4,1208.1 C1670.8,1206.9 1670.3,1205.0 1670.1,1203.5 C1669.8,1202.1 1669.9,1200.1 1669.9,1199.4 L1674.49,1199.63 C1674.6,1200.0 1674.6,1200.8 1674.9,1201.6 C1675.1,1202.4 1675.4,1203.7 1675.9,1204.3 C1676.3,1204.9 1676.9,1205.3 1677.4,1205.3 C1677.9,1205.3 1678.6,1205.2 1679.1,1204.3 C1679.5,1203.4 1679.9,1201.4 1680.1,1200.1 C1680.2,1198.8 1680.2,1197.7 1680.1,1196.7 C1679.9,1195.7 1679.7,1194.7 1679.2,1194.1 C1678.8,1193.5 1677.9,1193.2 1677.2,1193.1 C1676.6,1193.0 1675.5,1193.6 1675.1,1193.7 L1673.57,1192.11 L1672.96,1191.42 L1676.63,1183.01 L1670.85,1183.01Z"/><text class="d" font-size="49.00" transform="matrix(0.6995,0,0,1.0000,1692.54,1210.90)">0</text><ellipse cx="1720.85" cy="1207.17" rx="2.75" ry="3.73"/><text class="d" font-size="49.00" transform="matrix(0.6219,0,0,1.0000,1731.09,1210.90)">7</text><text class="d" font-size="49.00" transform="matrix(0.7250,0,0,0.7892,1753.88,1202.51)">″</text><text class="d" font-size="49.00" transform="matrix(0.5713,0,0,0.9590,1777.67,1206.15)">)</text><text class="d" font-size="50.15" transform="matrix(0.5896,0,0,1.0000,176.69,1311.45)">X</text><text class="d" font-size="50.15" transform="matrix(0.4974,0,0,1.0000,201.38,1311.45)">L</text><path d="M431.10,1277.25 L422.29,1277.25 L421.60,1283.33 L421.60,1287.39 L424.76,1285.19 L424.76,1311.05 L431.10,1311.05Z"/><text class="d" font-size="49.00" transform="matrix(0.6995,0,0,1.0000,441.54,1311.45)">0</text><text class="d" font-size="49.00" transform="matrix(0.6995,0,0,1.0000,466.04,1311.45)">0</text><text class="d" font-size="49.00" transform="matrix(0.5899,0,0,1.0000,490.12,1311.45)">c</text><text class="d" font-size="49.00" transform="matrix(0.6997,0,0,1.0000,509.99,1311.45)">m</text><text class="d" font-size="49.00" transform="matrix(0.5460,0,0,0.9590,544.99,1306.70)">(</text><path d="M562.76,1277.95 L577.20,1278.19 L577.20,1278.98 L572.47,1288.55 C572.7,1288.7 573.1,1289.0 573.6,1289.5 C574.1,1290.0 575.1,1290.6 575.7,1291.5 C576.2,1292.4 576.6,1293.6 576.8,1294.9 C577.1,1296.3 577.1,1297.8 577.1,1299.5 C577.1,1301.2 577.0,1303.6 576.6,1305.2 C576.3,1306.8 575.8,1308.0 575.1,1309.1 C574.4,1310.1 573.4,1310.9 572.5,1311.4 C571.5,1311.9 570.4,1312.0 569.3,1312.0 C568.2,1312.0 566.8,1311.9 565.9,1311.4 C564.9,1310.8 564.0,1309.8 563.4,1308.6 C562.8,1307.4 562.3,1305.5 562.1,1304.1 C561.8,1302.6 561.9,1300.6 561.9,1299.9 L566.49,1300.18 C566.6,1300.5 566.6,1301.4 566.9,1302.1 C567.1,1302.9 567.4,1304.2 567.9,1304.9 C568.3,1305.5 568.9,1305.9 569.4,1305.9 C569.9,1305.9 570.6,1305.7 571.1,1304.9 C571.5,1304.0 571.9,1301.9 572.1,1300.7 C572.2,1299.4 572.2,1298.3 572.1,1297.2 C571.9,1296.2 571.7,1295.2 571.2,1294.6 C570.8,1294.0 569.9,1293.7 569.2,1293.7 C568.6,1293.6 567.5,1294.2 567.1,1294.3 L565.57,1292.66 L564.96,1291.97 L568.63,1283.56 L562.85,1283.56Z"/><text class="d" font-size="49.00" transform="matrix(0.6910,0,0,1.0000,584.68,1311.45)">9</text><ellipse cx="612.85" cy="1307.72" rx="2.75" ry="3.73"/><text class="d" font-size="49.00" transform="matrix(0.6248,0,0,1.0000,622.89,1311.45)">4</text><text class="d" font-size="49.00" transform="matrix(0.7250,0,0,0.7892,645.88,1303.06)">″</text><text class="d" font-size="49.00" transform="matrix(0.5713,0,0,0.9590,669.67,1306.70)">)</text><text class="d" font-size="49.00" transform="matrix(0.6780,0,0,1.0000,787.10,1311.45)">8</text><text class="d" font-size="49.00" transform="matrix(0.6248,0,0,1.0000,812.19,1311.45)">4</text><text class="d" font-size="49.00" transform="matrix(0.5899,0,0,1.0000,835.42,1311.45)">c</text><text class="d" font-size="49.00" transform="matrix(0.6997,0,0,1.0000,855.29,1311.45)">m</text><text class="d" font-size="49.00" transform="matrix(0.5460,0,0,0.9590,890.29,1306.70)">(</text><path d="M908.06,1277.95 L922.50,1278.19 L922.50,1278.98 L917.77,1288.55 C918.0,1288.7 918.4,1289.0 918.9,1289.5 C919.4,1290.0 920.4,1290.6 921.0,1291.5 C921.5,1292.4 921.9,1293.6 922.1,1294.9 C922.4,1296.3 922.4,1297.8 922.4,1299.5 C922.4,1301.2 922.3,1303.6 921.9,1305.2 C921.6,1306.8 921.1,1308.0 920.4,1309.1 C919.7,1310.1 918.7,1310.9 917.8,1311.4 C916.8,1311.9 915.7,1312.0 914.6,1312.0 C913.5,1312.0 912.1,1311.9 911.2,1311.4 C910.2,1310.8 909.3,1309.8 908.7,1308.6 C908.1,1307.4 907.6,1305.5 907.4,1304.1 C907.1,1302.6 907.2,1300.6 907.2,1299.9 L911.79,1300.18 C911.9,1300.5 911.9,1301.4 912.2,1302.1 C912.4,1302.9 912.7,1304.2 913.2,1304.9 C913.6,1305.5 914.2,1305.9 914.7,1305.9 C915.2,1305.9 915.9,1305.7 916.4,1304.9 C916.8,1304.0 917.2,1301.9 917.4,1300.7 C917.5,1299.4 917.5,1298.3 917.4,1297.2 C917.2,1296.2 917.0,1295.2 916.5,1294.6 C916.1,1294.0 915.2,1293.7 914.5,1293.7 C913.9,1293.6 912.8,1294.2 912.4,1294.3 L910.87,1292.66 L910.26,1291.97 L913.93,1283.56 L908.15,1283.56Z"/><path d="M932.56,1277.95 L947.00,1278.19 L947.00,1278.98 L942.27,1288.55 C942.5,1288.7 942.9,1289.0 943.4,1289.5 C943.9,1290.0 944.9,1290.6 945.5,1291.5 C946.0,1292.4 946.4,1293.6 946.6,1294.9 C946.9,1296.3 946.9,1297.8 946.9,1299.5 C946.9,1301.2 946.8,1303.6 946.4,1305.2 C946.1,1306.8 945.6,1308.0 944.9,1309.1 C944.2,1310.1 943.2,1310.9 942.3,1311.4 C941.3,1311.9 940.2,1312.0 939.1,1312.0 C938.0,1312.0 936.6,1311.9 935.7,1311.4 C934.7,1310.8 933.8,1309.8 933.2,1308.6 C932.6,1307.4 932.1,1305.5 931.9,1304.1 C931.6,1302.6 931.7,1300.6 931.7,1299.9 L936.29,1300.18 C936.4,1300.5 936.4,1301.4 936.7,1302.1 C936.9,1302.9 937.2,1304.2 937.7,1304.9 C938.1,1305.5 938.7,1305.9 939.2,1305.9 C939.7,1305.9 940.4,1305.7 940.9,1304.9 C941.3,1304.0 941.7,1301.9 941.9,1300.7 C942.0,1299.4 942.0,1298.3 941.9,1297.2 C941.7,1296.2 941.5,1295.2 941.0,1294.6 C940.6,1294.0 939.7,1293.7 939.0,1293.7 C938.4,1293.6 937.3,1294.2 936.9,1294.3 L935.37,1292.66 L934.76,1291.97 L938.43,1283.56 L932.65,1283.56Z"/><ellipse cx="958.15" cy="1307.72" rx="2.75" ry="3.73"/><path d="M981.40,1277.25 L972.59,1277.25 L971.90,1283.33 L971.90,1287.39 L975.06,1285.19 L975.06,1311.05 L981.40,1311.05Z"/><text class="d" font-size="49.00" transform="matrix(0.7250,0,0,0.7892,991.18,1303.06)">″</text><text class="d" font-size="49.00" transform="matrix(0.5713,0,0,0.9590,1014.97,1306.70)">)</text><path d="M1167.40,1277.25 L1158.59,1277.25 L1157.90,1283.33 L1157.90,1287.39 L1161.06,1285.19 L1161.06,1311.05 L1167.40,1311.05Z"/><text class="d" font-size="49.00" transform="matrix(0.6995,0,0,1.0000,1177.84,1311.45)">0</text><text class="d" font-size="49.00" transform="matrix(0.6780,0,0,1.0000,1202.60,1311.45)">8</text><text class="d" font-size="49.00" transform="matrix(0.5899,0,0,1.0000,1226.42,1311.45)">c</text><text class="d" font-size="49.00" transform="matrix(0.6997,0,0,1.0000,1246.29,1311.45)">m</text><text class="d" font-size="49.00" transform="matrix(0.5460,0,0,0.9590,1281.29,1306.70)">(</text><text class="d" font-size="49.00" transform="matrix(0.6248,0,0,1.0000,1297.19,1311.45)">4</text><text class="d" font-size="49.00" transform="matrix(0.6698,0,0,1.0000,1321.31,1311.45)">2</text><ellipse cx="1349.15" cy="1307.72" rx="2.75" ry="3.73"/><text class="d" font-size="49.00" transform="matrix(0.6317,0,0,1.0000,1359.20,1311.45)">5</text><text class="d" font-size="49.00" transform="matrix(0.7250,0,0,0.7892,1382.18,1303.06)">″</text><text class="d" font-size="49.00" transform="matrix(0.5713,0,0,0.9590,1405.97,1306.70)">)</text><text class="d" font-size="49.00" transform="matrix(0.6780,0,0,1.0000,1549.80,1311.45)">8</text><text class="d" font-size="49.00" transform="matrix(0.6995,0,0,1.0000,1574.04,1311.45)">0</text><text class="d" font-size="49.00" transform="matrix(0.5899,0,0,1.0000,1598.12,1311.45)">c</text><text class="d" font-size="49.00" transform="matrix(0.6997,0,0,1.0000,1617.99,1311.45)">m</text><text class="d" font-size="49.00" transform="matrix(0.5460,0,0,0.9590,1652.99,1306.70)">(</text><path d="M1670.76,1277.95 L1685.20,1278.19 L1685.20,1278.98 L1680.47,1288.55 C1680.7,1288.7 1681.1,1289.0 1681.6,1289.5 C1682.1,1290.0 1683.1,1290.6 1683.7,1291.5 C1684.2,1292.4 1684.6,1293.6 1684.8,1294.9 C1685.1,1296.3 1685.1,1297.8 1685.1,1299.5 C1685.1,1301.2 1685.0,1303.6 1684.6,1305.2 C1684.3,1306.8 1683.8,1308.0 1683.1,1309.1 C1682.4,1310.1 1681.4,1310.9 1680.5,1311.4 C1679.5,1311.9 1678.4,1312.0 1677.3,1312.0 C1676.2,1312.0 1674.8,1311.9 1673.9,1311.4 C1672.9,1310.8 1672.0,1309.8 1671.4,1308.6 C1670.8,1307.4 1670.3,1305.5 1670.1,1304.1 C1669.8,1302.6 1669.9,1300.6 1669.9,1299.9 L1674.49,1300.18 C1674.6,1300.5 1674.6,1301.4 1674.9,1302.1 C1675.1,1302.9 1675.4,1304.2 1675.9,1304.9 C1676.3,1305.5 1676.9,1305.9 1677.4,1305.9 C1677.9,1305.9 1678.6,1305.7 1679.1,1304.9 C1679.5,1304.0 1679.9,1301.9 1680.1,1300.7 C1680.2,1299.4 1680.2,1298.3 1680.1,1297.2 C1679.9,1296.2 1679.7,1295.2 1679.2,1294.6 C1678.8,1294.0 1677.9,1293.7 1677.2,1293.7 C1676.6,1293.6 1675.5,1294.2 1675.1,1294.3 L1673.57,1292.66 L1672.96,1291.97 L1676.63,1283.56 L1670.85,1283.56Z"/><path d="M1706.60,1277.25 L1697.79,1277.25 L1697.10,1283.33 L1697.10,1287.39 L1700.26,1285.19 L1700.26,1311.05 L1706.60,1311.05Z"/><ellipse cx="1720.85" cy="1307.72" rx="2.75" ry="3.73"/><text class="d" font-size="49.00" transform="matrix(0.6248,0,0,1.0000,1730.89,1311.45)">4</text><text class="d" font-size="49.00" transform="matrix(0.7250,0,0,0.7892,1753.88,1303.06)">″</text><text class="d" font-size="49.00" transform="matrix(0.5713,0,0,0.9590,1777.67,1306.70)">)</text><text class="d" font-size="50.15" transform="matrix(0.6917,0,0,1.0000,164.60,1412.00)">2</text><text class="d" font-size="50.15" transform="matrix(0.5896,0,0,1.0000,187.84,1412.00)">X</text><text class="d" font-size="50.15" transform="matrix(0.4974,0,0,1.0000,212.53,1412.00)">L</text><path d="M431.10,1377.80 L422.29,1377.80 L421.60,1383.88 L421.60,1387.94 L424.76,1385.74 L424.76,1411.60 L431.10,1411.60Z"/><text class="d" font-size="49.00" transform="matrix(0.6995,0,0,1.0000,441.54,1412.00)">0</text><text class="d" font-size="49.00" transform="matrix(0.6882,0,0,1.0000,466.17,1412.00)">6</text><text class="d" font-size="49.00" transform="matrix(0.5899,0,0,1.0000,490.12,1412.00)">c</text><text class="d" font-size="49.00" transform="matrix(0.6997,0,0,1.0000,509.99,1412.00)">m</text><text class="d" font-size="49.00" transform="matrix(0.5460,0,0,0.9590,544.99,1407.25)">(</text><text class="d" font-size="49.00" transform="matrix(0.6248,0,0,1.0000,560.89,1412.00)">4</text><path d="M598.60,1377.80 L589.79,1377.80 L589.10,1383.88 L589.10,1387.94 L592.26,1385.74 L592.26,1411.60 L598.60,1411.60Z"/><ellipse cx="612.85" cy="1408.27" rx="2.75" ry="3.73"/><text class="d" font-size="49.00" transform="matrix(0.6219,0,0,1.0000,623.09,1412.00)">7</text><text class="d" font-size="49.00" transform="matrix(0.7250,0,0,0.7892,645.88,1403.61)">″</text><text class="d" font-size="49.00" transform="matrix(0.5713,0,0,0.9590,669.67,1407.25)">)</text><text class="d" font-size="49.00" transform="matrix(0.6910,0,0,1.0000,786.98,1412.00)">9</text><text class="d" font-size="49.00" transform="matrix(0.6995,0,0,1.0000,811.34,1412.00)">0</text><text class="d" font-size="49.00" transform="matrix(0.5899,0,0,1.0000,835.42,1412.00)">c</text><text class="d" font-size="49.00" transform="matrix(0.6997,0,0,1.0000,855.29,1412.00)">m</text><text class="d" font-size="49.00" transform="matrix(0.5460,0,0,0.9590,890.29,1407.25)">(</text><path d="M908.06,1378.50 L922.50,1378.74 L922.50,1379.53 L917.77,1389.10 C918.0,1389.3 918.4,1389.5 918.9,1390.0 C919.4,1390.5 920.4,1391.2 921.0,1392.1 C921.5,1393.0 921.9,1394.2 922.1,1395.5 C922.4,1396.8 922.4,1398.3 922.4,1400.0 C922.4,1401.8 922.3,1404.2 921.9,1405.8 C921.6,1407.4 921.1,1408.6 920.4,1409.6 C919.7,1410.7 918.7,1411.4 917.8,1411.9 C916.8,1412.4 915.7,1412.6 914.6,1412.6 C913.5,1412.6 912.1,1412.5 911.2,1411.9 C910.2,1411.3 909.3,1410.4 908.7,1409.2 C908.1,1408.0 907.6,1406.1 907.4,1404.6 C907.1,1403.2 907.2,1401.2 907.2,1400.5 L911.79,1400.73 C911.9,1401.1 911.9,1401.9 912.2,1402.7 C912.4,1403.5 912.7,1404.8 913.2,1405.4 C913.6,1406.0 914.2,1406.4 914.7,1406.4 C915.2,1406.4 915.9,1406.3 916.4,1405.4 C916.8,1404.5 917.2,1402.5 917.4,1401.2 C917.5,1399.9 917.5,1398.8 917.4,1397.8 C917.2,1396.8 917.0,1395.8 916.5,1395.2 C916.1,1394.6 915.2,1394.3 914.5,1394.2 C913.9,1394.1 912.8,1394.7 912.4,1394.8 L910.87,1393.21 L910.26,1392.52 L913.93,1384.11 L908.15,1384.11Z"/><text class="d" font-size="49.00" transform="matrix(0.6317,0,0,1.0000,930.70,1412.00)">5</text><ellipse cx="958.15" cy="1408.27" rx="2.75" ry="3.73"/><text class="d" font-size="49.00" transform="matrix(0.6248,0,0,1.0000,968.19,1412.00)">4</text><text class="d" font-size="49.00" transform="matrix(0.7250,0,0,0.7892,991.18,1403.61)">″</text><text class="d" font-size="49.00" transform="matrix(0.5713,0,0,0.9590,1014.97,1407.25)">)</text><path d="M1167.40,1377.80 L1158.59,1377.80 L1157.90,1383.88 L1157.90,1387.94 L1161.06,1385.74 L1161.06,1411.60 L1167.40,1411.60Z"/><path d="M1191.90,1377.80 L1183.09,1377.80 L1182.40,1383.88 L1182.40,1387.94 L1185.56,1385.74 L1185.56,1411.60 L1191.90,1411.60Z"/><text class="d" font-size="49.00" transform="matrix(0.6248,0,0,1.0000,1203.19,1412.00)">4</text><text class="d" font-size="49.00" transform="matrix(0.5899,0,0,1.0000,1226.42,1412.00)">c</text><text class="d" font-size="49.00" transform="matrix(0.6997,0,0,1.0000,1246.29,1412.00)">m</text><text class="d" font-size="49.00" transform="matrix(0.5460,0,0,0.9590,1281.29,1407.25)">(</text><text class="d" font-size="49.00" transform="matrix(0.6248,0,0,1.0000,1297.19,1412.00)">4</text><text class="d" font-size="49.00" transform="matrix(0.6248,0,0,1.0000,1321.69,1412.00)">4</text><ellipse cx="1349.15" cy="1408.27" rx="2.75" ry="3.73"/><text class="d" font-size="49.00" transform="matrix(0.6780,0,0,1.0000,1358.60,1412.00)">8</text><text class="d" font-size="49.00" transform="matrix(0.7250,0,0,0.7892,1382.18,1403.61)">″</text><text class="d" font-size="49.00" transform="matrix(0.5713,0,0,0.9590,1405.97,1407.25)">)</text><text class="d" font-size="49.00" transform="matrix(0.6780,0,0,1.0000,1549.80,1412.00)">8</text><text class="d" font-size="49.00" transform="matrix(0.6698,0,0,1.0000,1574.51,1412.00)">2</text><text class="d" font-size="49.00" transform="matrix(0.5899,0,0,1.0000,1598.12,1412.00)">c</text><text class="d" font-size="49.00" transform="matrix(0.6997,0,0,1.0000,1617.99,1412.00)">m</text><text class="d" font-size="49.00" transform="matrix(0.5460,0,0,0.9590,1652.99,1407.25)">(</text><path d="M1670.76,1378.50 L1685.20,1378.74 L1685.20,1379.53 L1680.47,1389.10 C1680.7,1389.3 1681.1,1389.5 1681.6,1390.0 C1682.1,1390.5 1683.1,1391.2 1683.7,1392.1 C1684.2,1393.0 1684.6,1394.2 1684.8,1395.5 C1685.1,1396.8 1685.1,1398.3 1685.1,1400.0 C1685.1,1401.8 1685.0,1404.2 1684.6,1405.8 C1684.3,1407.4 1683.8,1408.6 1683.1,1409.6 C1682.4,1410.7 1681.4,1411.4 1680.5,1411.9 C1679.5,1412.4 1678.4,1412.6 1677.3,1412.6 C1676.2,1412.6 1674.8,1412.5 1673.9,1411.9 C1672.9,1411.3 1672.0,1410.4 1671.4,1409.2 C1670.8,1408.0 1670.3,1406.1 1670.1,1404.6 C1669.8,1403.2 1669.9,1401.2 1669.9,1400.5 L1674.49,1400.73 C1674.6,1401.1 1674.6,1401.9 1674.9,1402.7 C1675.1,1403.5 1675.4,1404.8 1675.9,1405.4 C1676.3,1406.0 1676.9,1406.4 1677.4,1406.4 C1677.9,1406.4 1678.6,1406.3 1679.1,1405.4 C1679.5,1404.5 1679.9,1402.5 1680.1,1401.2 C1680.2,1399.9 1680.2,1398.8 1680.1,1397.8 C1679.9,1396.8 1679.7,1395.8 1679.2,1395.2 C1678.8,1394.6 1677.9,1394.3 1677.2,1394.2 C1676.6,1394.1 1675.5,1394.7 1675.1,1394.8 L1673.57,1393.21 L1672.96,1392.52 L1676.63,1384.11 L1670.85,1384.11Z"/><text class="d" font-size="49.00" transform="matrix(0.6698,0,0,1.0000,1693.01,1412.00)">2</text><ellipse cx="1720.85" cy="1408.27" rx="2.75" ry="3.73"/><path d="M1732.76,1378.50 L1747.20,1378.74 L1747.20,1379.53 L1742.47,1389.10 C1742.7,1389.3 1743.1,1389.5 1743.6,1390.0 C1744.1,1390.5 1745.1,1391.2 1745.7,1392.1 C1746.2,1393.0 1746.6,1394.2 1746.8,1395.5 C1747.1,1396.8 1747.1,1398.3 1747.1,1400.0 C1747.1,1401.8 1747.0,1404.2 1746.6,1405.8 C1746.3,1407.4 1745.8,1408.6 1745.1,1409.6 C1744.4,1410.7 1743.4,1411.4 1742.5,1411.9 C1741.5,1412.4 1740.4,1412.6 1739.3,1412.6 C1738.2,1412.6 1736.8,1412.5 1735.9,1411.9 C1734.9,1411.3 1734.0,1410.4 1733.4,1409.2 C1732.8,1408.0 1732.3,1406.1 1732.1,1404.6 C1731.8,1403.2 1731.9,1401.2 1731.9,1400.5 L1736.49,1400.73 C1736.6,1401.1 1736.6,1401.9 1736.9,1402.7 C1737.1,1403.5 1737.4,1404.8 1737.9,1405.4 C1738.3,1406.0 1738.9,1406.4 1739.4,1406.4 C1739.9,1406.4 1740.6,1406.3 1741.1,1405.4 C1741.5,1404.5 1741.9,1402.5 1742.1,1401.2 C1742.2,1399.9 1742.2,1398.8 1742.1,1397.8 C1741.9,1396.8 1741.7,1395.8 1741.2,1395.2 C1740.8,1394.6 1739.9,1394.3 1739.2,1394.2 C1738.6,1394.1 1737.5,1394.7 1737.1,1394.8 L1735.57,1393.21 L1734.96,1392.52 L1738.63,1384.11 L1732.85,1384.11Z"/><text class="d" font-size="49.00" transform="matrix(0.7250,0,0,0.7892,1753.88,1403.61)">″</text><text class="d" font-size="49.00" transform="matrix(0.5713,0,0,0.9590,1777.67,1407.25)">)</text><text class="d" font-size="50.15" transform="matrix(0.6700,0,0,1.0000,165.03,1512.55)">3</text><text class="d" font-size="50.15" transform="matrix(0.5896,0,0,1.0000,187.84,1512.55)">X</text><text class="d" font-size="50.15" transform="matrix(0.4974,0,0,1.0000,212.53,1512.55)">L</text><path d="M431.10,1478.35 L422.29,1478.35 L421.60,1484.43 L421.60,1488.49 L424.76,1486.29 L424.76,1512.15 L431.10,1512.15Z"/><path d="M455.60,1478.35 L446.79,1478.35 L446.10,1484.43 L446.10,1488.49 L449.26,1486.29 L449.26,1512.15 L455.60,1512.15Z"/><text class="d" font-size="49.00" transform="matrix(0.6698,0,0,1.0000,466.51,1512.55)">2</text><text class="d" font-size="49.00" transform="matrix(0.5899,0,0,1.0000,490.12,1512.55)">c</text><text class="d" font-size="49.00" transform="matrix(0.6997,0,0,1.0000,509.99,1512.55)">m</text><text class="d" font-size="49.00" transform="matrix(0.5460,0,0,0.9590,544.99,1507.80)">(</text><text class="d" font-size="49.00" transform="matrix(0.6248,0,0,1.0000,560.89,1512.55)">4</text><text class="d" font-size="49.00" transform="matrix(0.6248,0,0,1.0000,585.39,1512.55)">4</text><ellipse cx="612.85" cy="1508.82" rx="2.75" ry="3.73"/><path d="M636.10,1478.35 L627.29,1478.35 L626.60,1484.43 L626.60,1488.49 L629.76,1486.29 L629.76,1512.15 L636.10,1512.15Z"/><text class="d" font-size="49.00" transform="matrix(0.7250,0,0,0.7892,645.88,1504.16)">″</text><text class="d" font-size="49.00" transform="matrix(0.5713,0,0,0.9590,669.67,1507.80)">)</text><text class="d" font-size="49.00" transform="matrix(0.6910,0,0,1.0000,786.98,1512.55)">9</text><text class="d" font-size="49.00" transform="matrix(0.6882,0,0,1.0000,811.47,1512.55)">6</text><text class="d" font-size="49.00" transform="matrix(0.5899,0,0,1.0000,835.42,1512.55)">c</text><text class="d" font-size="49.00" transform="matrix(0.6997,0,0,1.0000,855.29,1512.55)">m</text><text class="d" font-size="49.00" transform="matrix(0.5460,0,0,0.9590,890.29,1507.80)">(</text><path d="M908.06,1479.05 L922.50,1479.29 L922.50,1480.08 L917.77,1489.65 C918.0,1489.8 918.4,1490.1 918.9,1490.6 C919.4,1491.1 920.4,1491.7 921.0,1492.6 C921.5,1493.5 921.9,1494.7 922.1,1496.0 C922.4,1497.4 922.4,1498.9 922.4,1500.6 C922.4,1502.3 922.3,1504.7 921.9,1506.3 C921.6,1507.9 921.1,1509.1 920.4,1510.2 C919.7,1511.2 918.7,1512.0 917.8,1512.5 C916.8,1513.0 915.7,1513.1 914.6,1513.1 C913.5,1513.1 912.1,1513.0 911.2,1512.5 C910.2,1511.9 909.3,1510.9 908.7,1509.7 C908.1,1508.5 907.6,1506.6 907.4,1505.2 C907.1,1503.7 907.2,1501.7 907.2,1501.0 L911.79,1501.28 C911.9,1501.6 911.9,1502.5 912.2,1503.2 C912.4,1504.0 912.7,1505.3 913.2,1506.0 C913.6,1506.6 914.2,1507.0 914.7,1507.0 C915.2,1507.0 915.9,1506.8 916.4,1506.0 C916.8,1505.1 917.2,1503.0 917.4,1501.8 C917.5,1500.5 917.5,1499.4 917.4,1498.3 C917.2,1497.3 917.0,1496.3 916.5,1495.7 C916.1,1495.1 915.2,1494.8 914.5,1494.8 C913.9,1494.7 912.8,1495.3 912.4,1495.4 L910.87,1493.76 L910.26,1493.07 L913.93,1484.66 L908.15,1484.66Z"/><text class="d" font-size="49.00" transform="matrix(0.6219,0,0,1.0000,930.89,1512.55)">7</text><ellipse cx="958.15" cy="1508.82" rx="2.75" ry="3.73"/><text class="d" font-size="49.00" transform="matrix(0.6780,0,0,1.0000,967.60,1512.55)">8</text><text class="d" font-size="49.00" transform="matrix(0.7250,0,0,0.7892,991.18,1504.16)">″</text><text class="d" font-size="49.00" transform="matrix(0.5713,0,0,0.9590,1014.97,1507.80)">)</text><path d="M1167.40,1478.35 L1158.59,1478.35 L1157.90,1484.43 L1157.90,1488.49 L1161.06,1486.29 L1161.06,1512.15 L1167.40,1512.15Z"/><text class="d" font-size="49.00" transform="matrix(0.6698,0,0,1.0000,1178.31,1512.55)">2</text><text class="d" font-size="49.00" transform="matrix(0.6995,0,0,1.0000,1202.34,1512.55)">0</text><text class="d" font-size="49.00" transform="matrix(0.5899,0,0,1.0000,1226.42,1512.55)">c</text><text class="d" font-size="49.00" transform="matrix(0.6997,0,0,1.0000,1246.29,1512.55)">m</text><text class="d" font-size="49.00" transform="matrix(0.5460,0,0,0.9590,1281.29,1507.80)">(</text><text class="d" font-size="49.00" transform="matrix(0.6248,0,0,1.0000,1297.19,1512.55)">4</text><text class="d" font-size="49.00" transform="matrix(0.6219,0,0,1.0000,1321.89,1512.55)">7</text><ellipse cx="1349.15" cy="1508.82" rx="2.75" ry="3.73"/><text class="d" font-size="49.00" transform="matrix(0.6698,0,0,1.0000,1358.81,1512.55)">2</text><text class="d" font-size="49.00" transform="matrix(0.7250,0,0,0.7892,1382.18,1504.16)">″</text><text class="d" font-size="49.00" transform="matrix(0.5713,0,0,0.9590,1405.97,1507.80)">)</text><text class="d" font-size="49.00" transform="matrix(0.6780,0,0,1.0000,1549.80,1512.55)">8</text><text class="d" font-size="49.00" transform="matrix(0.6248,0,0,1.0000,1574.89,1512.55)">4</text><text class="d" font-size="49.00" transform="matrix(0.5899,0,0,1.0000,1598.12,1512.55)">c</text><text class="d" font-size="49.00" transform="matrix(0.6997,0,0,1.0000,1617.99,1512.55)">m</text><text class="d" font-size="49.00" transform="matrix(0.5460,0,0,0.9590,1652.99,1507.80)">(</text><path d="M1670.76,1479.05 L1685.20,1479.29 L1685.20,1480.08 L1680.47,1489.65 C1680.7,1489.8 1681.1,1490.1 1681.6,1490.6 C1682.1,1491.1 1683.1,1491.7 1683.7,1492.6 C1684.2,1493.5 1684.6,1494.7 1684.8,1496.0 C1685.1,1497.4 1685.1,1498.9 1685.1,1500.6 C1685.1,1502.3 1685.0,1504.7 1684.6,1506.3 C1684.3,1507.9 1683.8,1509.1 1683.1,1510.2 C1682.4,1511.2 1681.4,1512.0 1680.5,1512.5 C1679.5,1513.0 1678.4,1513.1 1677.3,1513.1 C1676.2,1513.1 1674.8,1513.0 1673.9,1512.5 C1672.9,1511.9 1672.0,1510.9 1671.4,1509.7 C1670.8,1508.5 1670.3,1506.6 1670.1,1505.2 C1669.8,1503.7 1669.9,1501.7 1669.9,1501.0 L1674.49,1501.28 C1674.6,1501.6 1674.6,1502.5 1674.9,1503.2 C1675.1,1504.0 1675.4,1505.3 1675.9,1506.0 C1676.3,1506.6 1676.9,1507.0 1677.4,1507.0 C1677.9,1507.0 1678.6,1506.8 1679.1,1506.0 C1679.5,1505.1 1679.9,1503.0 1680.1,1501.8 C1680.2,1500.5 1680.2,1499.4 1680.1,1498.3 C1679.9,1497.3 1679.7,1496.3 1679.2,1495.7 C1678.8,1495.1 1677.9,1494.8 1677.2,1494.8 C1676.6,1494.7 1675.5,1495.3 1675.1,1495.4 L1673.57,1493.76 L1672.96,1493.07 L1676.63,1484.66 L1670.85,1484.66Z"/><path d="M1695.26,1479.05 L1709.70,1479.29 L1709.70,1480.08 L1704.97,1489.65 C1705.2,1489.8 1705.6,1490.1 1706.1,1490.6 C1706.6,1491.1 1707.6,1491.7 1708.2,1492.6 C1708.7,1493.5 1709.1,1494.7 1709.3,1496.0 C1709.6,1497.4 1709.6,1498.9 1709.6,1500.6 C1709.6,1502.3 1709.5,1504.7 1709.1,1506.3 C1708.8,1507.9 1708.3,1509.1 1707.6,1510.2 C1706.9,1511.2 1705.9,1512.0 1705.0,1512.5 C1704.0,1513.0 1702.9,1513.1 1701.8,1513.1 C1700.7,1513.1 1699.3,1513.0 1698.4,1512.5 C1697.4,1511.9 1696.5,1510.9 1695.9,1509.7 C1695.3,1508.5 1694.8,1506.6 1694.6,1505.2 C1694.3,1503.7 1694.4,1501.7 1694.4,1501.0 L1698.99,1501.28 C1699.1,1501.6 1699.1,1502.5 1699.4,1503.2 C1699.6,1504.0 1699.9,1505.3 1700.4,1506.0 C1700.8,1506.6 1701.4,1507.0 1701.9,1507.0 C1702.4,1507.0 1703.1,1506.8 1703.6,1506.0 C1704.0,1505.1 1704.4,1503.0 1704.6,1501.8 C1704.7,1500.5 1704.7,1499.4 1704.6,1498.3 C1704.4,1497.3 1704.2,1496.3 1703.7,1495.7 C1703.3,1495.1 1702.4,1494.8 1701.7,1494.8 C1701.1,1494.7 1700.0,1495.3 1699.6,1495.4 L1698.07,1493.76 L1697.46,1493.07 L1701.13,1484.66 L1695.35,1484.66Z"/><ellipse cx="1720.85" cy="1508.82" rx="2.75" ry="3.73"/><path d="M1744.10,1478.35 L1735.29,1478.35 L1734.60,1484.43 L1734.60,1488.49 L1737.76,1486.29 L1737.76,1512.15 L1744.10,1512.15Z"/><text class="d" font-size="49.00" transform="matrix(0.7250,0,0,0.7892,1753.88,1504.16)">″</text><text class="d" font-size="49.00" transform="matrix(0.5713,0,0,0.9590,1777.67,1507.80)">)</text><text class="d" font-size="50.15" transform="matrix(0.6217,0,0,1.0000,165.33,1613.10)">4</text><text class="d" font-size="50.15" transform="matrix(0.5896,0,0,1.0000,187.84,1613.10)">X</text><text class="d" font-size="50.15" transform="matrix(0.4974,0,0,1.0000,212.53,1613.10)">L</text><path d="M431.10,1578.90 L422.29,1578.90 L421.60,1584.98 L421.60,1589.04 L424.76,1586.84 L424.76,1612.70 L431.10,1612.70Z"/><path d="M455.60,1578.90 L446.79,1578.90 L446.10,1584.98 L446.10,1589.04 L449.26,1586.84 L449.26,1612.70 L455.60,1612.70Z"/><text class="d" font-size="49.00" transform="matrix(0.6780,0,0,1.0000,466.30,1613.10)">8</text><text class="d" font-size="49.00" transform="matrix(0.5899,0,0,1.0000,490.12,1613.10)">c</text><text class="d" font-size="49.00" transform="matrix(0.6997,0,0,1.0000,509.99,1613.10)">m</text><text class="d" font-size="49.00" transform="matrix(0.5460,0,0,0.9590,544.99,1608.35)">(</text><text class="d" font-size="49.00" transform="matrix(0.6248,0,0,1.0000,560.89,1613.10)">4</text><text class="d" font-size="49.00" transform="matrix(0.6882,0,0,1.0000,584.67,1613.10)">6</text><ellipse cx="612.85" cy="1609.37" rx="2.75" ry="3.73"/><text class="d" font-size="49.00" transform="matrix(0.6317,0,0,1.0000,622.90,1613.10)">5</text><text class="d" font-size="49.00" transform="matrix(0.7250,0,0,0.7892,645.88,1604.71)">″</text><text class="d" font-size="49.00" transform="matrix(0.5713,0,0,0.9590,669.67,1608.35)">)</text><path d="M800.90,1578.90 L792.09,1578.90 L791.40,1584.98 L791.40,1589.04 L794.56,1586.84 L794.56,1612.70 L800.90,1612.70Z"/><text class="d" font-size="49.00" transform="matrix(0.6995,0,0,1.0000,811.34,1613.10)">0</text><text class="d" font-size="49.00" transform="matrix(0.6698,0,0,1.0000,836.31,1613.10)">2</text><text class="d" font-size="49.00" transform="matrix(0.5899,0,0,1.0000,859.92,1613.10)">c</text><text class="d" font-size="49.00" transform="matrix(0.6997,0,0,1.0000,879.79,1613.10)">m</text><text class="d" font-size="49.00" transform="matrix(0.5460,0,0,0.9590,914.79,1608.35)">(</text><text class="d" font-size="49.00" transform="matrix(0.6248,0,0,1.0000,930.69,1613.10)">4</text><text class="d" font-size="49.00" transform="matrix(0.6995,0,0,1.0000,954.34,1613.10)">0</text><ellipse cx="982.65" cy="1609.37" rx="2.75" ry="3.73"/><text class="d" font-size="49.00" transform="matrix(0.6698,0,0,1.0000,992.31,1613.10)">2</text><text class="d" font-size="49.00" transform="matrix(0.7250,0,0,0.7892,1015.68,1604.71)">″</text><text class="d" font-size="49.00" transform="matrix(0.5713,0,0,0.9590,1039.47,1608.35)">)</text><path d="M1167.40,1578.90 L1158.59,1578.90 L1157.90,1584.98 L1157.90,1589.04 L1161.06,1586.84 L1161.06,1612.70 L1167.40,1612.70Z"/><text class="d" font-size="49.00" transform="matrix(0.6698,0,0,1.0000,1178.31,1613.10)">2</text><text class="d" font-size="49.00" transform="matrix(0.6882,0,0,1.0000,1202.47,1613.10)">6</text><text class="d" font-size="49.00" transform="matrix(0.5899,0,0,1.0000,1226.42,1613.10)">c</text><text class="d" font-size="49.00" transform="matrix(0.6997,0,0,1.0000,1246.29,1613.10)">m</text><text class="d" font-size="49.00" transform="matrix(0.5460,0,0,0.9590,1281.29,1608.35)">(</text><text class="d" font-size="49.00" transform="matrix(0.6248,0,0,1.0000,1297.19,1613.10)">4</text><text class="d" font-size="49.00" transform="matrix(0.6910,0,0,1.0000,1320.98,1613.10)">9</text><ellipse cx="1349.15" cy="1609.37" rx="2.75" ry="3.73"/><text class="d" font-size="49.00" transform="matrix(0.6882,0,0,1.0000,1358.47,1613.10)">6</text><text class="d" font-size="49.00" transform="matrix(0.7250,0,0,0.7892,1382.18,1604.71)">″</text><text class="d" font-size="49.00" transform="matrix(0.5713,0,0,0.9590,1405.97,1608.35)">)</text><text class="d" font-size="49.00" transform="matrix(0.6780,0,0,1.0000,1549.80,1613.10)">8</text><text class="d" font-size="49.00" transform="matrix(0.6882,0,0,1.0000,1574.17,1613.10)">6</text><text class="d" font-size="49.00" transform="matrix(0.5899,0,0,1.0000,1598.12,1613.10)">c</text><text class="d" font-size="49.00" transform="matrix(0.6997,0,0,1.0000,1617.99,1613.10)">m</text><text class="d" font-size="49.00" transform="matrix(0.5460,0,0,0.9590,1652.99,1608.35)">(</text><path d="M1670.76,1579.60 L1685.20,1579.84 L1685.20,1580.63 L1680.47,1590.20 C1680.7,1590.4 1681.1,1590.6 1681.6,1591.1 C1682.1,1591.6 1683.1,1592.3 1683.7,1593.2 C1684.2,1594.1 1684.6,1595.3 1684.8,1596.6 C1685.1,1597.9 1685.1,1599.4 1685.1,1601.1 C1685.1,1602.9 1685.0,1605.3 1684.6,1606.9 C1684.3,1608.5 1683.8,1609.7 1683.1,1610.7 C1682.4,1611.8 1681.4,1612.5 1680.5,1613.0 C1679.5,1613.5 1678.4,1613.7 1677.3,1613.7 C1676.2,1613.7 1674.8,1613.6 1673.9,1613.0 C1672.9,1612.4 1672.0,1611.5 1671.4,1610.3 C1670.8,1609.1 1670.3,1607.2 1670.1,1605.7 C1669.8,1604.3 1669.9,1602.3 1669.9,1601.6 L1674.49,1601.83 C1674.6,1602.2 1674.6,1603.0 1674.9,1603.8 C1675.1,1604.6 1675.4,1605.9 1675.9,1606.5 C1676.3,1607.1 1676.9,1607.5 1677.4,1607.5 C1677.9,1607.5 1678.6,1607.4 1679.1,1606.5 C1679.5,1605.6 1679.9,1603.6 1680.1,1602.3 C1680.2,1601.0 1680.2,1599.9 1680.1,1598.9 C1679.9,1597.9 1679.7,1596.9 1679.2,1596.3 C1678.8,1595.7 1677.9,1595.4 1677.2,1595.3 C1676.6,1595.2 1675.5,1595.8 1675.1,1595.9 L1673.57,1594.31 L1672.96,1593.62 L1676.63,1585.21 L1670.85,1585.21Z"/><path d="M1695.26,1579.60 L1709.70,1579.84 L1709.70,1580.63 L1704.97,1590.20 C1705.2,1590.4 1705.6,1590.6 1706.1,1591.1 C1706.6,1591.6 1707.6,1592.3 1708.2,1593.2 C1708.7,1594.1 1709.1,1595.3 1709.3,1596.6 C1709.6,1597.9 1709.6,1599.4 1709.6,1601.1 C1709.6,1602.9 1709.5,1605.3 1709.1,1606.9 C1708.8,1608.5 1708.3,1609.7 1707.6,1610.7 C1706.9,1611.8 1705.9,1612.5 1705.0,1613.0 C1704.0,1613.5 1702.9,1613.7 1701.8,1613.7 C1700.7,1613.7 1699.3,1613.6 1698.4,1613.0 C1697.4,1612.4 1696.5,1611.5 1695.9,1610.3 C1695.3,1609.1 1694.8,1607.2 1694.6,1605.7 C1694.3,1604.3 1694.4,1602.3 1694.4,1601.6 L1698.99,1601.83 C1699.1,1602.2 1699.1,1603.0 1699.4,1603.8 C1699.6,1604.6 1699.9,1605.9 1700.4,1606.5 C1700.8,1607.1 1701.4,1607.5 1701.9,1607.5 C1702.4,1607.5 1703.1,1607.4 1703.6,1606.5 C1704.0,1605.6 1704.4,1603.6 1704.6,1602.3 C1704.7,1601.0 1704.7,1599.9 1704.6,1598.9 C1704.4,1597.9 1704.2,1596.9 1703.7,1596.3 C1703.3,1595.7 1702.4,1595.4 1701.7,1595.3 C1701.1,1595.2 1700.0,1595.8 1699.6,1595.9 L1698.07,1594.31 L1697.46,1593.62 L1701.13,1585.21 L1695.35,1585.21Z"/><ellipse cx="1720.85" cy="1609.37" rx="2.75" ry="3.73"/><text class="d" font-size="49.00" transform="matrix(0.6910,0,0,1.0000,1730.18,1613.10)">9</text><text class="d" font-size="49.00" transform="matrix(0.7250,0,0,0.7892,1753.88,1604.71)">″</text><text class="d" font-size="49.00" transform="matrix(0.5713,0,0,0.9590,1777.67,1608.35)">)</text><text class="d" font-size="50.15" transform="matrix(0.6693,0,0,1.0000,164.77,1713.65)">5</text><text class="d" font-size="50.15" transform="matrix(0.5896,0,0,1.0000,187.84,1713.65)">X</text><text class="d" font-size="50.15" transform="matrix(0.4974,0,0,1.0000,212.53,1713.65)">L</text><path d="M431.10,1679.45 L422.29,1679.45 L421.60,1685.53 L421.60,1689.59 L424.76,1687.39 L424.76,1713.25 L431.10,1713.25Z"/><text class="d" font-size="49.00" transform="matrix(0.6698,0,0,1.0000,442.01,1713.65)">2</text><text class="d" font-size="49.00" transform="matrix(0.6248,0,0,1.0000,466.89,1713.65)">4</text><text class="d" font-size="49.00" transform="matrix(0.5899,0,0,1.0000,490.12,1713.65)">c</text><text class="d" font-size="49.00" transform="matrix(0.6997,0,0,1.0000,509.99,1713.65)">m</text><text class="d" font-size="49.00" transform="matrix(0.5460,0,0,0.9590,544.99,1708.90)">(</text><text class="d" font-size="49.00" transform="matrix(0.6248,0,0,1.0000,560.89,1713.65)">4</text><text class="d" font-size="49.00" transform="matrix(0.6780,0,0,1.0000,584.80,1713.65)">8</text><ellipse cx="612.85" cy="1709.92" rx="2.75" ry="3.73"/><text class="d" font-size="49.00" transform="matrix(0.6780,0,0,1.0000,622.30,1713.65)">8</text><text class="d" font-size="49.00" transform="matrix(0.7250,0,0,0.7892,645.88,1705.26)">″</text><text class="d" font-size="49.00" transform="matrix(0.5713,0,0,0.9590,669.67,1708.90)">)</text><path d="M800.90,1679.45 L792.09,1679.45 L791.40,1685.53 L791.40,1689.59 L794.56,1687.39 L794.56,1713.25 L800.90,1713.25Z"/><text class="d" font-size="49.00" transform="matrix(0.6995,0,0,1.0000,811.34,1713.65)">0</text><text class="d" font-size="49.00" transform="matrix(0.6780,0,0,1.0000,836.10,1713.65)">8</text><text class="d" font-size="49.00" transform="matrix(0.5899,0,0,1.0000,859.92,1713.65)">c</text><text class="d" font-size="49.00" transform="matrix(0.6997,0,0,1.0000,879.79,1713.65)">m</text><text class="d" font-size="49.00" transform="matrix(0.5460,0,0,0.9590,914.79,1708.90)">(</text><text class="d" font-size="49.00" transform="matrix(0.6248,0,0,1.0000,930.69,1713.65)">4</text><text class="d" font-size="49.00" transform="matrix(0.6698,0,0,1.0000,954.81,1713.65)">2</text><ellipse cx="982.65" cy="1709.92" rx="2.75" ry="3.73"/><text class="d" font-size="49.00" transform="matrix(0.6317,0,0,1.0000,992.70,1713.65)">5</text><text class="d" font-size="49.00" transform="matrix(0.7250,0,0,0.7892,1015.68,1705.26)">″</text><text class="d" font-size="49.00" transform="matrix(0.5713,0,0,0.9590,1039.47,1708.90)">)</text><path d="M1167.40,1679.45 L1158.59,1679.45 L1157.90,1685.53 L1157.90,1689.59 L1161.06,1687.39 L1161.06,1713.25 L1167.40,1713.25Z"/><path d="M1180.56,1680.15 L1195.00,1680.39 L1195.00,1681.18 L1190.27,1690.75 C1190.5,1690.9 1190.9,1691.2 1191.4,1691.7 C1191.9,1692.2 1192.9,1692.8 1193.5,1693.7 C1194.0,1694.6 1194.4,1695.8 1194.6,1697.2 C1194.9,1698.5 1194.9,1700.0 1194.9,1701.7 C1194.9,1703.4 1194.8,1705.8 1194.4,1707.4 C1194.1,1709.0 1193.6,1710.2 1192.9,1711.3 C1192.2,1712.3 1191.2,1713.1 1190.3,1713.6 C1189.3,1714.1 1188.2,1714.2 1187.1,1714.2 C1186.0,1714.2 1184.6,1714.1 1183.7,1713.6 C1182.7,1713.0 1181.8,1712.0 1181.2,1710.8 C1180.6,1709.6 1180.1,1707.7 1179.9,1706.3 C1179.6,1704.8 1179.7,1702.8 1179.7,1702.1 L1184.29,1702.38 C1184.4,1702.7 1184.4,1703.6 1184.7,1704.3 C1184.9,1705.1 1185.2,1706.4 1185.7,1707.1 C1186.1,1707.7 1186.7,1708.1 1187.2,1708.1 C1187.7,1708.1 1188.4,1707.9 1188.9,1707.1 C1189.3,1706.2 1189.7,1704.1 1189.9,1702.9 C1190.0,1701.6 1190.0,1700.5 1189.9,1699.4 C1189.7,1698.4 1189.5,1697.4 1189.0,1696.8 C1188.6,1696.2 1187.7,1695.9 1187.0,1695.9 C1186.4,1695.8 1185.3,1696.4 1184.9,1696.5 L1183.37,1694.86 L1182.76,1694.17 L1186.43,1685.76 L1180.65,1685.76Z"/><text class="d" font-size="49.00" transform="matrix(0.6698,0,0,1.0000,1202.81,1713.65)">2</text><text class="d" font-size="49.00" transform="matrix(0.5899,0,0,1.0000,1226.42,1713.65)">c</text><text class="d" font-size="49.00" transform="matrix(0.6997,0,0,1.0000,1246.29,1713.65)">m</text><text class="d" font-size="49.00" transform="matrix(0.5460,0,0,0.9590,1281.29,1708.90)">(</text><text class="d" font-size="49.00" transform="matrix(0.6317,0,0,1.0000,1297.20,1713.65)">5</text><text class="d" font-size="49.00" transform="matrix(0.6698,0,0,1.0000,1321.31,1713.65)">2</text><text class="d" font-size="49.00" transform="matrix(0.7250,0,0,0.7892,1344.68,1705.26)">″</text><text class="d" font-size="49.00" transform="matrix(0.5713,0,0,0.9590,1368.47,1708.90)">)</text><text class="d" font-size="49.00" transform="matrix(0.6780,0,0,1.0000,1549.80,1713.65)">8</text><text class="d" font-size="49.00" transform="matrix(0.6780,0,0,1.0000,1574.30,1713.65)">8</text><text class="d" font-size="49.00" transform="matrix(0.5899,0,0,1.0000,1598.12,1713.65)">c</text><text class="d" font-size="49.00" transform="matrix(0.6997,0,0,1.0000,1617.99,1713.65)">m</text><text class="d" font-size="49.00" transform="matrix(0.5460,0,0,0.9590,1652.99,1708.90)">(</text><path d="M1670.76,1680.15 L1685.20,1680.39 L1685.20,1681.18 L1680.47,1690.75 C1680.7,1690.9 1681.1,1691.2 1681.6,1691.7 C1682.1,1692.2 1683.1,1692.8 1683.7,1693.7 C1684.2,1694.6 1684.6,1695.8 1684.8,1697.2 C1685.1,1698.5 1685.1,1700.0 1685.1,1701.7 C1685.1,1703.4 1685.0,1705.8 1684.6,1707.4 C1684.3,1709.0 1683.8,1710.2 1683.1,1711.3 C1682.4,1712.3 1681.4,1713.1 1680.5,1713.6 C1679.5,1714.1 1678.4,1714.2 1677.3,1714.2 C1676.2,1714.2 1674.8,1714.1 1673.9,1713.6 C1672.9,1713.0 1672.0,1712.0 1671.4,1710.8 C1670.8,1709.6 1670.3,1707.7 1670.1,1706.3 C1669.8,1704.8 1669.9,1702.8 1669.9,1702.1 L1674.49,1702.38 C1674.6,1702.7 1674.6,1703.6 1674.9,1704.3 C1675.1,1705.1 1675.4,1706.4 1675.9,1707.1 C1676.3,1707.7 1676.9,1708.1 1677.4,1708.1 C1677.9,1708.1 1678.6,1707.9 1679.1,1707.1 C1679.5,1706.2 1679.9,1704.1 1680.1,1702.9 C1680.2,1701.6 1680.2,1700.5 1680.1,1699.4 C1679.9,1698.4 1679.7,1697.4 1679.2,1696.8 C1678.8,1696.2 1677.9,1695.9 1677.2,1695.9 C1676.6,1695.8 1675.5,1696.4 1675.1,1696.5 L1673.57,1694.86 L1672.96,1694.17 L1676.63,1685.76 L1670.85,1685.76Z"/><text class="d" font-size="49.00" transform="matrix(0.6248,0,0,1.0000,1693.39,1713.65)">4</text><ellipse cx="1720.85" cy="1709.92" rx="2.75" ry="3.73"/><text class="d" font-size="49.00" transform="matrix(0.6882,0,0,1.0000,1730.17,1713.65)">6</text><text class="d" font-size="49.00" transform="matrix(0.7250,0,0,0.7892,1753.88,1705.26)">″</text><text class="d" font-size="49.00" transform="matrix(0.5713,0,0,0.9590,1777.67,1708.90)">)</text><text class="d" font-size="50.15" transform="matrix(0.6889,0,0,1.0000,164.53,1814.20)">6</text><text class="d" font-size="50.15" transform="matrix(0.5896,0,0,1.0000,187.84,1814.20)">X</text><text class="d" font-size="50.15" transform="matrix(0.4974,0,0,1.0000,212.53,1814.20)">L</text><path d="M431.10,1780.00 L422.29,1780.00 L421.60,1786.08 L421.60,1790.14 L424.76,1787.94 L424.76,1813.80 L431.10,1813.80Z"/><path d="M444.26,1780.70 L458.70,1780.94 L458.70,1781.73 L453.97,1791.30 C454.2,1791.5 454.6,1791.7 455.1,1792.2 C455.6,1792.7 456.6,1793.4 457.2,1794.3 C457.7,1795.2 458.1,1796.4 458.3,1797.7 C458.6,1799.0 458.6,1800.5 458.6,1802.2 C458.6,1804.0 458.5,1806.4 458.1,1808.0 C457.8,1809.6 457.3,1810.8 456.6,1811.8 C455.9,1812.9 454.9,1813.6 454.0,1814.1 C453.0,1814.6 451.9,1814.8 450.8,1814.8 C449.7,1814.8 448.3,1814.7 447.4,1814.1 C446.4,1813.5 445.5,1812.6 444.9,1811.4 C444.3,1810.2 443.8,1808.3 443.6,1806.8 C443.3,1805.4 443.4,1803.4 443.4,1802.7 L447.99,1802.93 C448.1,1803.3 448.1,1804.1 448.4,1804.9 C448.6,1805.7 448.9,1807.0 449.4,1807.6 C449.8,1808.2 450.4,1808.6 450.9,1808.6 C451.4,1808.6 452.1,1808.5 452.6,1807.6 C453.0,1806.7 453.4,1804.7 453.6,1803.4 C453.7,1802.1 453.7,1801.0 453.6,1800.0 C453.4,1799.0 453.2,1798.0 452.7,1797.4 C452.3,1796.8 451.4,1796.5 450.7,1796.4 C450.1,1796.3 449.0,1796.9 448.6,1797.0 L447.07,1795.41 L446.46,1794.72 L450.13,1786.31 L444.35,1786.31Z"/><text class="d" font-size="49.00" transform="matrix(0.6995,0,0,1.0000,466.04,1814.20)">0</text><text class="d" font-size="49.00" transform="matrix(0.5899,0,0,1.0000,490.12,1814.20)">c</text><text class="d" font-size="49.00" transform="matrix(0.6997,0,0,1.0000,509.99,1814.20)">m</text><text class="d" font-size="49.00" transform="matrix(0.5460,0,0,0.9590,544.99,1809.45)">(</text><text class="d" font-size="49.00" transform="matrix(0.6317,0,0,1.0000,560.90,1814.20)">5</text><path d="M598.60,1780.00 L589.79,1780.00 L589.10,1786.08 L589.10,1790.14 L592.26,1787.94 L592.26,1813.80 L598.60,1813.80Z"/><ellipse cx="612.85" cy="1810.47" rx="2.75" ry="3.73"/><text class="d" font-size="49.00" transform="matrix(0.6698,0,0,1.0000,622.51,1814.20)">2</text><text class="d" font-size="49.00" transform="matrix(0.7250,0,0,0.7892,645.88,1805.81)">″</text><text class="d" font-size="49.00" transform="matrix(0.5713,0,0,0.9590,669.67,1809.45)">)</text><path d="M800.90,1780.00 L792.09,1780.00 L791.40,1786.08 L791.40,1790.14 L794.56,1787.94 L794.56,1813.80 L800.90,1813.80Z"/><path d="M825.40,1780.00 L816.59,1780.00 L815.90,1786.08 L815.90,1790.14 L819.06,1787.94 L819.06,1813.80 L825.40,1813.80Z"/><text class="d" font-size="49.00" transform="matrix(0.6248,0,0,1.0000,836.69,1814.20)">4</text><text class="d" font-size="49.00" transform="matrix(0.5899,0,0,1.0000,859.92,1814.20)">c</text><text class="d" font-size="49.00" transform="matrix(0.6997,0,0,1.0000,879.79,1814.20)">m</text><text class="d" font-size="49.00" transform="matrix(0.5460,0,0,0.9590,914.79,1809.45)">(</text><text class="d" font-size="49.00" transform="matrix(0.6248,0,0,1.0000,930.69,1814.20)">4</text><text class="d" font-size="49.00" transform="matrix(0.6248,0,0,1.0000,955.19,1814.20)">4</text><ellipse cx="982.65" cy="1810.47" rx="2.75" ry="3.73"/><text class="d" font-size="49.00" transform="matrix(0.6910,0,0,1.0000,991.98,1814.20)">9</text><text class="d" font-size="49.00" transform="matrix(0.7250,0,0,0.7892,1015.68,1805.81)">″</text><text class="d" font-size="49.00" transform="matrix(0.5713,0,0,0.9590,1039.47,1809.45)">)</text><path d="M1167.40,1780.00 L1158.59,1780.00 L1157.90,1786.08 L1157.90,1790.14 L1161.06,1787.94 L1161.06,1813.80 L1167.40,1813.80Z"/><path d="M1180.56,1780.70 L1195.00,1780.94 L1195.00,1781.73 L1190.27,1791.30 C1190.5,1791.5 1190.9,1791.7 1191.4,1792.2 C1191.9,1792.7 1192.9,1793.4 1193.5,1794.3 C1194.0,1795.2 1194.4,1796.4 1194.6,1797.7 C1194.9,1799.0 1194.9,1800.5 1194.9,1802.2 C1194.9,1804.0 1194.8,1806.4 1194.4,1808.0 C1194.1,1809.6 1193.6,1810.8 1192.9,1811.8 C1192.2,1812.9 1191.2,1813.6 1190.3,1814.1 C1189.3,1814.6 1188.2,1814.8 1187.1,1814.8 C1186.0,1814.8 1184.6,1814.7 1183.7,1814.1 C1182.7,1813.5 1181.8,1812.6 1181.2,1811.4 C1180.6,1810.2 1180.1,1808.3 1179.9,1806.8 C1179.6,1805.4 1179.7,1803.4 1179.7,1802.7 L1184.29,1802.93 C1184.4,1803.3 1184.4,1804.1 1184.7,1804.9 C1184.9,1805.7 1185.2,1807.0 1185.7,1807.6 C1186.1,1808.2 1186.7,1808.6 1187.2,1808.6 C1187.7,1808.6 1188.4,1808.5 1188.9,1807.6 C1189.3,1806.7 1189.7,1804.7 1189.9,1803.4 C1190.0,1802.1 1190.0,1801.0 1189.9,1800.0 C1189.7,1799.0 1189.5,1798.0 1189.0,1797.4 C1188.6,1796.8 1187.7,1796.5 1187.0,1796.4 C1186.4,1796.3 1185.3,1796.9 1184.9,1797.0 L1183.37,1795.41 L1182.76,1794.72 L1186.43,1786.31 L1180.65,1786.31Z"/><text class="d" font-size="49.00" transform="matrix(0.6780,0,0,1.0000,1202.60,1814.20)">8</text><text class="d" font-size="49.00" transform="matrix(0.5899,0,0,1.0000,1226.42,1814.20)">c</text><text class="d" font-size="49.00" transform="matrix(0.6997,0,0,1.0000,1246.29,1814.20)">m</text><text class="d" font-size="49.00" transform="matrix(0.5460,0,0,0.9590,1281.29,1809.45)">(</text><text class="d" font-size="49.00" transform="matrix(0.6317,0,0,1.0000,1297.20,1814.20)">5</text><text class="d" font-size="49.00" transform="matrix(0.6248,0,0,1.0000,1321.69,1814.20)">4</text><ellipse cx="1349.15" cy="1810.47" rx="2.75" ry="3.73"/><path d="M1361.06,1780.70 L1375.50,1780.94 L1375.50,1781.73 L1370.77,1791.30 C1371.0,1791.5 1371.4,1791.7 1371.9,1792.2 C1372.4,1792.7 1373.4,1793.4 1374.0,1794.3 C1374.5,1795.2 1374.9,1796.4 1375.1,1797.7 C1375.4,1799.0 1375.4,1800.5 1375.4,1802.2 C1375.4,1804.0 1375.3,1806.4 1374.9,1808.0 C1374.6,1809.6 1374.1,1810.8 1373.4,1811.8 C1372.7,1812.9 1371.7,1813.6 1370.8,1814.1 C1369.8,1814.6 1368.7,1814.8 1367.6,1814.8 C1366.5,1814.8 1365.1,1814.7 1364.2,1814.1 C1363.2,1813.5 1362.3,1812.6 1361.7,1811.4 C1361.1,1810.2 1360.6,1808.3 1360.4,1806.8 C1360.1,1805.4 1360.2,1803.4 1360.2,1802.7 L1364.79,1802.93 C1364.9,1803.3 1364.9,1804.1 1365.2,1804.9 C1365.4,1805.7 1365.7,1807.0 1366.2,1807.6 C1366.6,1808.2 1367.2,1808.6 1367.7,1808.6 C1368.2,1808.6 1368.9,1808.5 1369.4,1807.6 C1369.8,1806.7 1370.2,1804.7 1370.4,1803.4 C1370.5,1802.1 1370.5,1801.0 1370.4,1800.0 C1370.2,1799.0 1370.0,1798.0 1369.5,1797.4 C1369.1,1796.8 1368.2,1796.5 1367.5,1796.4 C1366.9,1796.3 1365.8,1796.9 1365.4,1797.0 L1363.87,1795.41 L1363.26,1794.72 L1366.93,1786.31 L1361.15,1786.31Z"/><text class="d" font-size="49.00" transform="matrix(0.7250,0,0,0.7892,1382.18,1805.81)">″</text><text class="d" font-size="49.00" transform="matrix(0.5713,0,0,0.9590,1405.97,1809.45)">)</text><text class="d" font-size="49.00" transform="matrix(0.6910,0,0,1.0000,1549.68,1814.20)">9</text><text class="d" font-size="49.00" transform="matrix(0.6995,0,0,1.0000,1574.04,1814.20)">0</text><text class="d" font-size="49.00" transform="matrix(0.5899,0,0,1.0000,1598.12,1814.20)">c</text><text class="d" font-size="49.00" transform="matrix(0.6997,0,0,1.0000,1617.99,1814.20)">m</text><text class="d" font-size="49.00" transform="matrix(0.5460,0,0,0.9590,1652.99,1809.45)">(</text><path d="M1670.76,1780.70 L1685.20,1780.94 L1685.20,1781.73 L1680.47,1791.30 C1680.7,1791.5 1681.1,1791.7 1681.6,1792.2 C1682.1,1792.7 1683.1,1793.4 1683.7,1794.3 C1684.2,1795.2 1684.6,1796.4 1684.8,1797.7 C1685.1,1799.0 1685.1,1800.5 1685.1,1802.2 C1685.1,1804.0 1685.0,1806.4 1684.6,1808.0 C1684.3,1809.6 1683.8,1810.8 1683.1,1811.8 C1682.4,1812.9 1681.4,1813.6 1680.5,1814.1 C1679.5,1814.6 1678.4,1814.8 1677.3,1814.8 C1676.2,1814.8 1674.8,1814.7 1673.9,1814.1 C1672.9,1813.5 1672.0,1812.6 1671.4,1811.4 C1670.8,1810.2 1670.3,1808.3 1670.1,1806.8 C1669.8,1805.4 1669.9,1803.4 1669.9,1802.7 L1674.49,1802.93 C1674.6,1803.3 1674.6,1804.1 1674.9,1804.9 C1675.1,1805.7 1675.4,1807.0 1675.9,1807.6 C1676.3,1808.2 1676.9,1808.6 1677.4,1808.6 C1677.9,1808.6 1678.6,1808.5 1679.1,1807.6 C1679.5,1806.7 1679.9,1804.7 1680.1,1803.4 C1680.2,1802.1 1680.2,1801.0 1680.1,1800.0 C1679.9,1799.0 1679.7,1798.0 1679.2,1797.4 C1678.8,1796.8 1677.9,1796.5 1677.2,1796.4 C1676.6,1796.3 1675.5,1796.9 1675.1,1797.0 L1673.57,1795.41 L1672.96,1794.72 L1676.63,1786.31 L1670.85,1786.31Z"/><text class="d" font-size="49.00" transform="matrix(0.6317,0,0,1.0000,1693.40,1814.20)">5</text><ellipse cx="1720.85" cy="1810.47" rx="2.75" ry="3.73"/><text class="d" font-size="49.00" transform="matrix(0.6248,0,0,1.0000,1730.89,1814.20)">4</text><text class="d" font-size="49.00" transform="matrix(0.7250,0,0,0.7892,1753.88,1805.81)">″</text><text class="d" font-size="49.00" transform="matrix(0.5713,0,0,0.9590,1777.67,1809.45)">)</text></g><use href="#dt" x="1.10"/><use href="#dt" x="2.20"/><use href="#dt" x="0.00" y="0.80"/><use href="#dt" x="1.10" y="0.80"/><use href="#dt" x="2.20" y="0.80"/><g id="ft" fill="#000" transform="translate(0,-0.00)"><path d="M394.30,1878.10 L386.05,1878.10 L385.40,1884.26 L385.40,1888.36 L388.36,1886.14 L388.36,1912.30 L394.30,1912.30Z"/><path d="M420.53,1878.20 L436.20,1878.45 L436.20,1879.25 L431.07,1889.02 C431.3,1889.2 431.7,1889.5 432.3,1890.0 C432.9,1890.5 434.0,1891.1 434.6,1892.1 C435.1,1893.0 435.5,1894.2 435.8,1895.5 C436.0,1896.9 436.1,1898.4 436.1,1900.2 C436.1,1901.9 435.9,1904.4 435.6,1906.0 C435.2,1907.6 434.7,1908.9 433.9,1910.0 C433.2,1911.0 432.1,1911.8 431.1,1912.3 C430.0,1912.8 428.8,1913.0 427.6,1913.0 C426.4,1913.0 425.0,1912.9 423.9,1912.3 C422.8,1911.7 421.9,1910.7 421.2,1909.5 C420.6,1908.3 420.1,1906.4 419.8,1904.9 C419.5,1903.4 419.6,1901.3 419.6,1900.6 L424.58,1900.89 C424.6,1901.2 424.7,1902.1 425.0,1902.9 C425.2,1903.7 425.6,1905.0 426.1,1905.7 C426.5,1906.3 427.2,1906.7 427.7,1906.7 C428.3,1906.7 429.1,1906.6 429.6,1905.7 C430.0,1904.8 430.5,1902.7 430.6,1901.4 C430.8,1900.1 430.8,1898.9 430.6,1897.9 C430.5,1896.9 430.2,1895.8 429.7,1895.2 C429.2,1894.6 428.3,1894.3 427.6,1894.2 C426.8,1894.2 425.6,1894.7 425.2,1894.9 L423.58,1893.21 L422.92,1892.51 L426.90,1883.93 L420.63,1883.93Z"/><text class="d" font-size="50.93" transform="matrix(0.7697,0,0,1.0000,110.79,1914.80)">*</text><text class="d" font-size="48.50" transform="matrix(0.7486,0,0,1.0000,142.57,1912.30)">Please</text><text class="d" font-size="48.50" transform="matrix(0.7795,0,0,1.0000,272.79,1912.30)">allow</text><text class="d" font-size="48.50" transform="matrix(0.5928,0,0,1.0000,404.48,1912.30)">-</text><text class="d" font-size="48.50" transform="matrix(0.7071,0,0,1.0000,440.76,1912.30)">cm</text><text class="d" font-size="48.50" transform="matrix(0.7727,0,0,1.0000,504.26,1912.30)">difference</text><text class="d" font-size="48.50" transform="matrix(0.7375,0,0,1.0000,696.53,1912.30)">due</text><text class="d" font-size="48.50" transform="matrix(0.7069,0,0,1.0000,774.48,1912.30)">to</text><text class="d" font-size="48.50" transform="matrix(0.7734,0,0,1.0000,820.53,1912.30)">manual</text><text class="d" font-size="48.50" transform="matrix(0.7740,0,0,1.0000,965.53,1912.30)">measurement.</text></g><use href="#ft" x="1.00"/><use href="#ft" x="2.00"/></svg>
</body></html>
